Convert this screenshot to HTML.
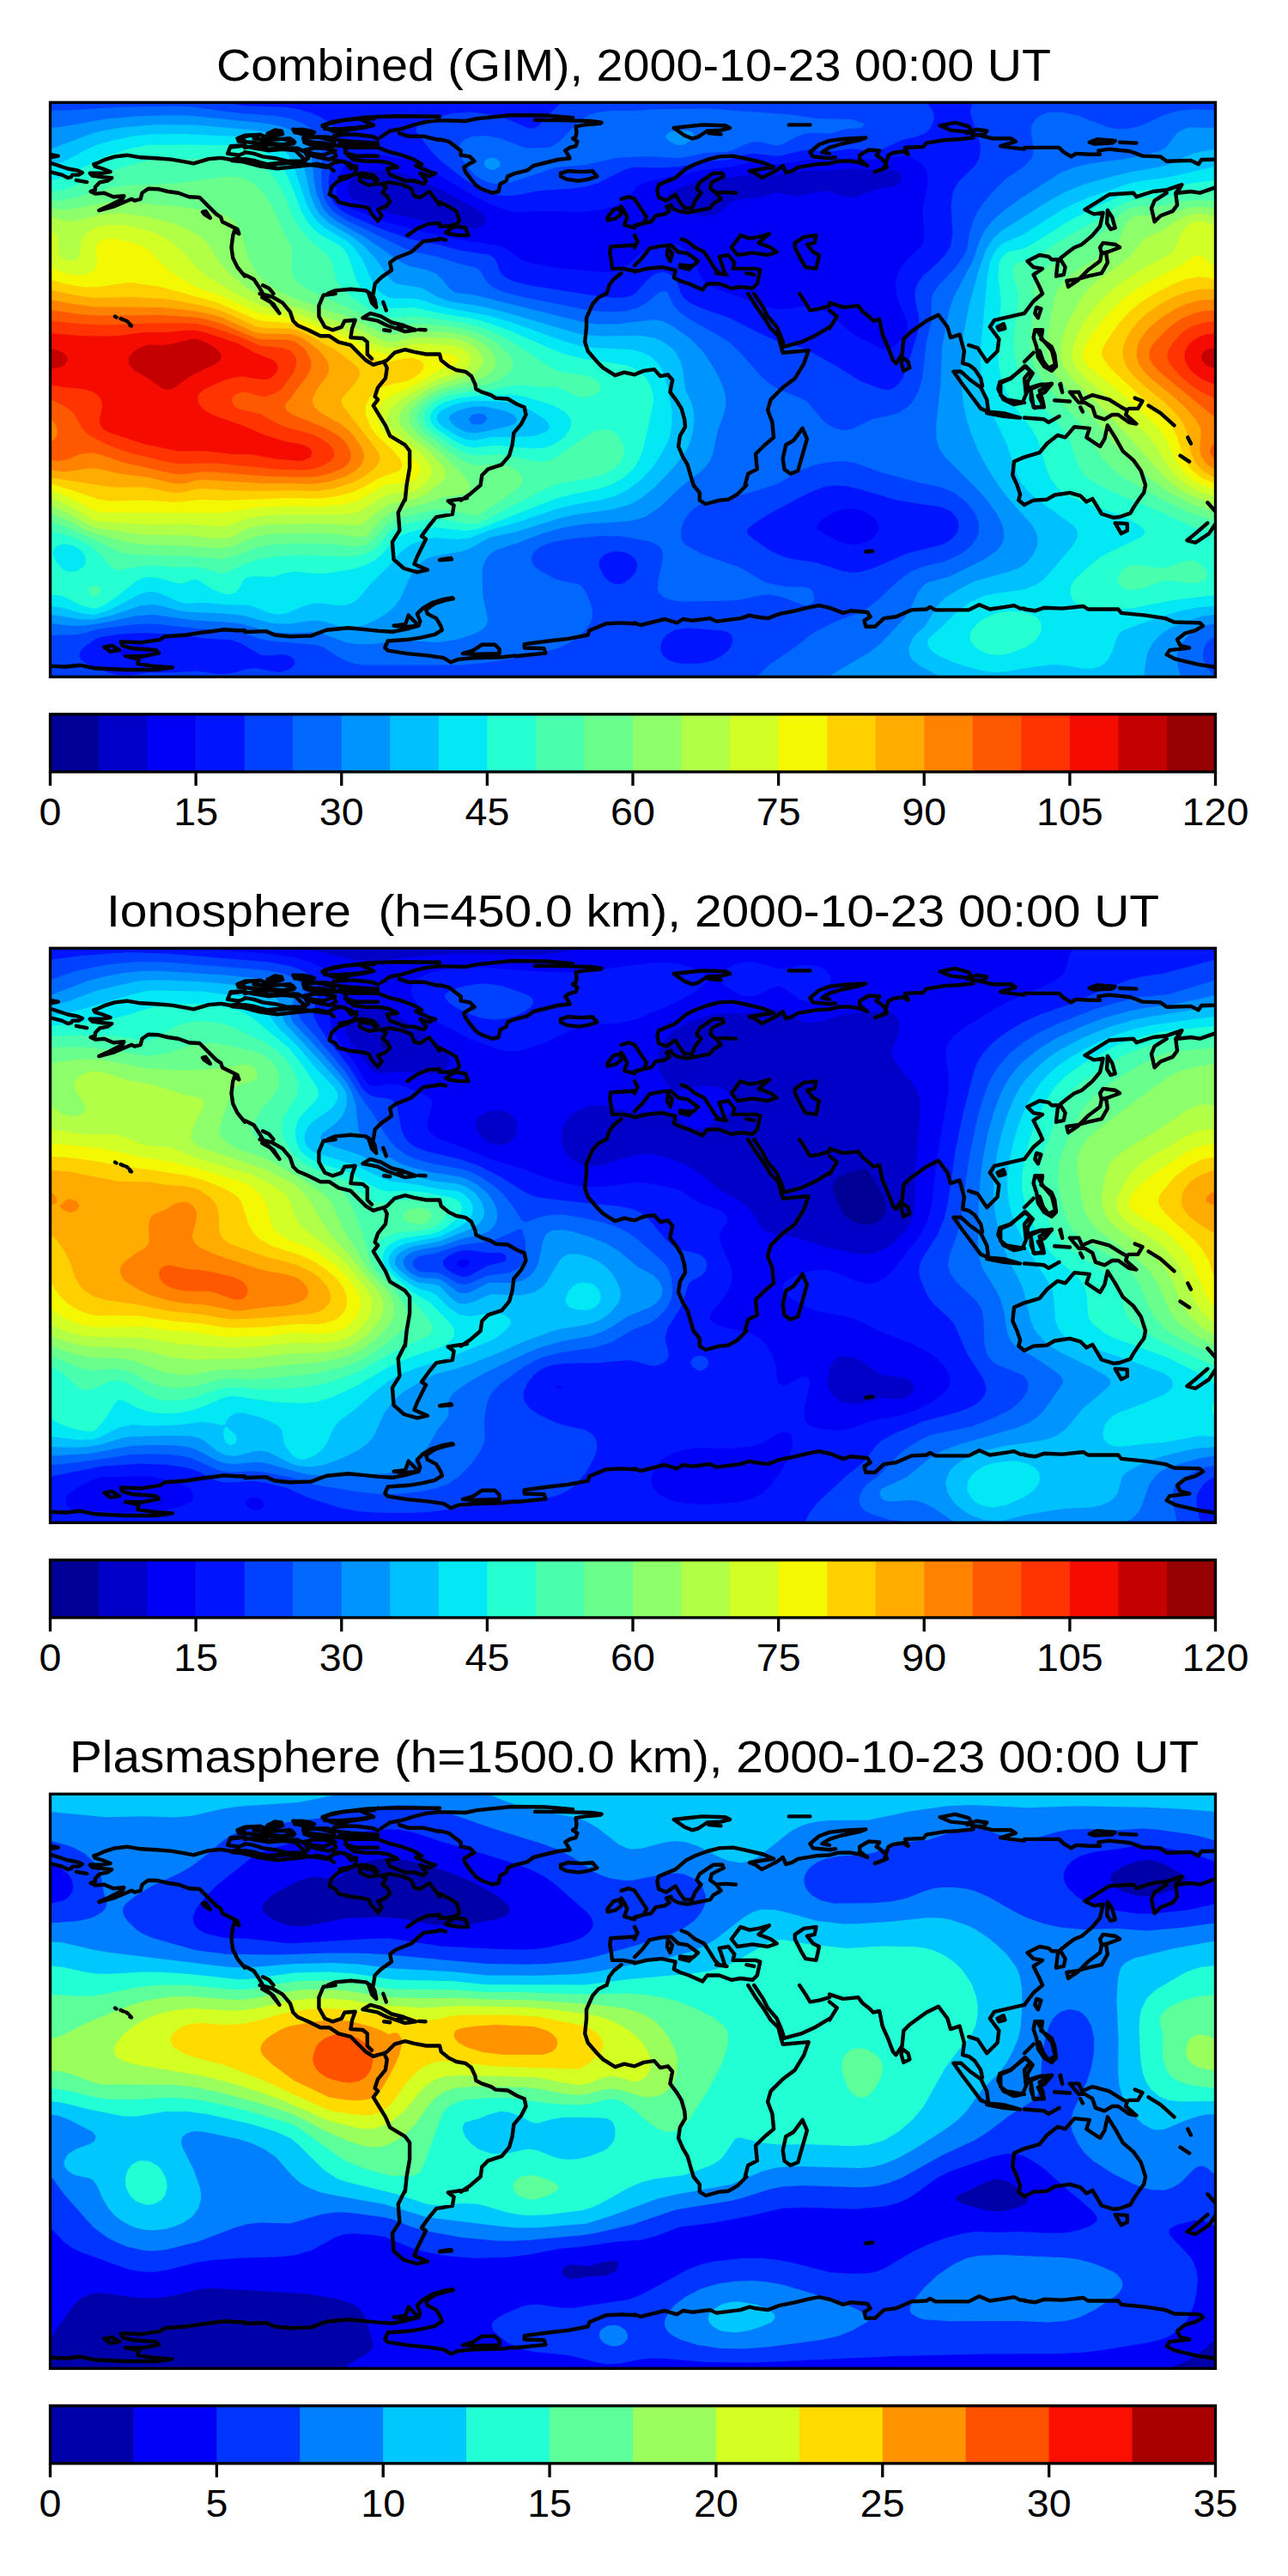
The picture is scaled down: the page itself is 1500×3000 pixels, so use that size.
<!DOCTYPE html><html><head><meta charset="utf-8"><style>html,body{margin:0;padding:0;background:#fff;}svg{display:block;}text{font-family:"Liberation Sans",sans-serif;fill:#000;}</style></head><body>
<svg width="1500" height="3000" viewBox="0 0 1500 3000">
<rect width="1500" height="3000" fill="#fff"/>
<defs>
<clipPath id="clip0"><rect x="58.5" y="119.3" width="1357.0" height="669.0"/></clipPath>
<clipPath id="clip1"><rect x="58.5" y="1104.3" width="1357.0" height="669.0"/></clipPath>
<clipPath id="clip2"><rect x="58.5" y="2089.3" width="1357.0" height="669.0"/></clipPath>
<path id="coast" fill="none" stroke="#000" stroke-width="4.4" stroke-linejoin="round" stroke-linecap="round" d="M58.0 179.8 L67.7 181.6 L58.0 183.3 M58.0 189.5 L68.6 193.0 L79.1 196.5 L89.7 198.3 L95.9 201.0 L91.5 203.6 L84.4 203.6 L82.7 206.2 L79.1 207.1 L72.1 203.6 L65.0 201.8 L58.0 200.1 M88.8 209.8 L101.2 212.1 M285.0 185.1 L269.5 186.0 L257.2 183.9 L243.1 185.1 L225.4 190.4 L216.6 188.6 L199.0 185.6 L181.4 184.2 L163.7 183.3 L147.9 180.7 L133.8 182.4 L123.2 185.6 L114.4 189.5 L109.1 191.3 L110.9 193.9 L119.7 196.5 L128.5 200.1 L117.9 201.8 L104.7 201.8 L107.3 204.5 L119.7 206.2 L130.3 207.1 L125.0 210.6 L116.2 212.4 L110.9 217.7 L110.9 221.2 L105.6 223.0 L110.9 225.6 L121.4 224.7 L132.0 229.2 L144.4 228.3 L142.6 231.8 L135.5 235.3 L125.0 240.6 L115.3 245.0 L132.0 240.6 L142.6 236.2 L153.2 231.8 L156.7 233.6 L163.7 231.8 L165.5 224.7 L172.6 219.8 L184.9 220.3 L195.5 223.0 L207.8 224.7 L220.1 229.2 L232.5 230.0 L243.1 240.6 L251.9 249.4 L257.2 252.9 L258.9 258.2 L269.5 263.5 L276.5 267.0 L278.3 272.3 L273.0 268.8 L271.3 274.1 L269.5 288.2 L271.3 300.5 L276.5 311.1 L285.0 321.7 M236.0 246.8 L239.5 245.9 L244.8 253.8 L237.8 249.4 L236.0 246.8 M285.0 157.8 L276.5 161.3 L285.0 163.9 M285.0 169.2 L268.6 170.1 L265.1 178.9 L278.3 180.7 L285.0 178.0 M375.8 147.2 L383.7 143.7 L399.6 140.1 L418.9 138.4 L434.8 145.4 L426.0 148.1 L408.4 150.7 L397.8 154.2 L387.2 152.5 L375.8 147.2 M397.8 140.1 L426.0 136.6 L461.2 135.2 L512.0 135.7 M443.6 159.5 L454.2 152.5 L468.3 149.8 L482.4 145.4 L496.5 141.9 L512.0 140.1 M464.8 155.1 L475.3 158.7 L493.0 158.7 L512.0 163.1 M341.4 150.7 L355.5 151.6 L366.1 154.2 L359.0 156.0 L343.2 154.2 L341.4 150.7 M311.4 156.0 L327.3 152.5 L329.1 156.0 L315.0 157.8 L311.4 156.0 M285.0 157.8 L302.6 156.9 L295.6 161.3 L311.4 163.1 L337.9 161.3 L343.2 165.7 L329.1 168.3 L311.4 166.6 L295.6 166.6 L285.0 164.8 M285.0 171.9 L299.1 170.1 L313.2 173.6 L330.8 171.9 L346.7 172.8 L355.5 177.2 L359.0 184.2 L352.0 187.7 L334.3 187.7 L320.2 184.2 L306.1 182.4 L295.6 178.9 L285.0 177.2 M353.7 161.3 L367.8 159.5 L381.9 159.5 L394.3 163.1 L408.4 164.8 L440.1 166.6 L436.6 168.3 L411.9 170.1 L394.3 170.1 L376.6 166.6 L355.5 164.8 L353.7 161.3 M353.7 175.4 L367.8 171.9 L380.2 171.9 L390.7 175.4 L376.6 180.7 L364.3 178.9 L353.7 175.4 M401.3 171.9 L418.9 171.9 L440.1 171.9 L454.2 177.2 L468.3 180.7 L482.4 186.0 L491.2 191.3 L484.2 193.0 L500.0 200.1 L507.1 201.8 L500.0 205.4 L489.4 201.8 L496.5 210.6 L493.0 214.2 L482.4 210.6 L471.8 210.6 L461.2 206.2 L454.2 203.6 L450.7 196.5 L463.0 194.8 L452.4 189.5 L440.1 187.7 L426.0 187.7 L411.9 186.0 L404.8 180.7 L401.3 171.9 M418.9 205.4 L433.0 207.1 L440.1 214.2 L429.5 215.9 L418.9 210.6 L418.9 205.4 M285.0 185.1 L295.6 186.9 L304.4 189.5 L311.4 191.3 L329.1 189.5 L343.2 188.6 L355.5 191.3 L369.6 193.0 L380.2 194.8 L389.0 189.5 L397.8 187.7 L408.4 191.3 L415.4 196.5 L411.9 203.6 L404.8 207.1 L394.3 210.6 L386.3 217.7 L383.7 226.5 L390.7 230.0 L394.3 235.3 L408.4 238.8 L422.5 240.6 L429.5 242.4 L433.0 249.4 L440.1 257.4 L444.5 251.2 L440.1 244.1 L448.9 240.6 L454.2 235.3 L450.7 228.3 L445.4 224.7 L449.8 217.7 L443.6 214.2 L454.2 212.4 L468.3 215.1 L478.9 219.5 L482.4 228.3 L489.4 230.0 L500.0 223.0 L512.0 238.8 M474.5 274.1 L485.9 266.2 L498.3 260.9 L512.0 260.0 M512.0 278.5 L493.0 281.1 L478.9 293.5 L461.2 300.5 L454.2 305.8 L456.0 314.6 L443.6 323.4 L436.6 330.5 L434.8 341.9 M285.0 319.9 L295.6 325.2 L302.6 335.8 L306.1 341.9 M306.1 332.3 L313.2 335.8 L318.5 341.9 M381.9 341.9 L390.7 338.4 L408.4 336.7 L426.0 338.4 L431.3 341.9 M512.0 140.1 L542.0 141.0 L554.3 138.4 L570.2 136.6 L596.6 134.0 L635.4 134.5 L667.1 137.2 M623.0 139.8 L658.3 140.1 L688.2 141.0 L700.6 142.8 L698.8 143.7 L681.2 145.4 L670.6 147.2 L671.5 154.2 L670.6 159.5 L667.1 161.3 L672.4 164.8 L670.6 170.1 L663.6 171.9 L658.3 175.4 L661.8 180.7 L663.6 184.2 L649.5 186.0 L635.4 189.5 L621.3 193.0 L614.2 198.3 L600.1 201.8 L591.3 205.4 L589.5 210.6 L582.5 214.2 L580.7 223.0 L573.7 224.7 L561.3 220.3 L554.3 215.9 L547.2 207.1 L542.0 200.1 L540.2 194.8 L545.5 191.3 L552.5 187.7 L547.2 182.4 L536.7 180.7 L536.7 175.4 L522.6 164.8 L512.0 162.2 M653.0 201.8 L661.8 199.2 L677.7 200.1 L690.0 199.2 L695.3 205.4 L684.7 208.9 L674.1 210.6 L660.0 208.9 L653.0 205.4 L653.0 201.8 M512.0 235.3 L522.6 240.6 L531.4 245.9 L534.9 256.5 L533.1 260.0 L522.6 263.5 L512.0 263.5 M519.0 270.6 L529.6 263.5 L542.0 265.3 L545.5 274.1 L534.9 274.1 L522.6 272.3 L519.0 270.6 M512.0 277.6 L519.0 279.4 M723.5 231.8 L732.3 229.2 L739.0 231.8 M723.5 240.6 L727.0 245.9 L730.5 252.9 L727.0 261.8 L739.0 265.3 M707.6 252.9 L714.7 244.1 L721.7 242.4 L723.5 249.4 L716.4 254.7 L707.6 256.5 L707.6 252.9 M739.0 285.5 L711.2 287.3 L710.3 295.2 L712.0 304.1 L712.9 312.9 L725.3 312.9 L739.0 315.5 M723.5 318.2 L714.7 325.2 L709.4 332.3 L706.7 341.9 M784.8 149.0 L800.7 147.2 L818.3 145.4 L844.7 146.3 L850.0 149.0 L839.5 151.6 L823.6 152.5 L813.0 159.5 L806.0 161.3 L797.2 157.8 L784.8 149.0 M825.4 155.1 L839.5 156.4 M918.8 145.4 L943.4 145.4 M966.0 163.9 L954.0 168.3 L943.4 177.2 L947.0 182.4 L966.0 184.2 M966.0 171.9 L957.5 177.2 L966.0 178.9 M966.0 190.4 L950.5 191.3 L929.3 194.8 L922.3 199.2 L915.2 201.0 L911.7 193.0 L904.7 198.3 L894.1 203.6 L887.0 207.1 L880.0 201.8 L872.9 199.2 L888.8 196.5 L901.1 194.8 L888.8 189.5 L865.9 184.2 L853.6 181.6 L837.7 182.4 L823.6 186.0 L809.5 191.3 L798.9 196.5 L786.6 207.1 L767.2 215.1 L765.4 221.2 L767.2 230.0 L776.0 233.6 L786.6 226.5 L791.9 235.3 L797.2 242.4 L806.0 242.4 L809.5 233.6 L816.5 224.7 L811.3 219.5 L814.8 212.4 L830.6 201.8 L841.2 201.8 L843.0 205.4 L828.9 212.4 L827.1 219.5 L834.2 224.7 L839.5 231.8 L830.6 237.1 L827.1 242.4 L818.3 244.1 L800.7 247.7 L790.1 245.9 L783.1 242.4 L781.3 238.8 L776.0 240.6 L779.5 245.9 L774.2 249.4 L763.7 251.2 L758.4 258.2 L749.6 260.0 L739.0 263.5 M834.2 224.7 L844.7 223.9 L857.1 224.7 M739.0 231.8 L746.0 242.4 L753.1 252.9 L749.6 260.0 L739.0 262.6 M739.0 274.1 L742.5 281.1 L739.0 288.2 M739.0 309.3 L747.8 300.5 L756.6 289.1 L770.7 286.4 L781.3 285.5 L790.1 293.5 L800.7 295.2 L813.0 304.1 L807.7 309.3 L797.2 310.2 M793.6 278.5 L800.7 281.1 L809.5 288.2 L820.1 293.5 L827.1 304.1 L832.4 312.9 L837.7 318.2 L844.7 319.9 L841.2 309.3 L837.7 298.8 L848.3 297.0 L855.3 305.8 M777.8 289.1 L783.1 295.2 L780.4 304.1 L776.9 297.0 L777.8 289.1 M791.9 308.5 L806.0 310.2 L802.4 313.7 L791.9 311.1 M851.8 288.2 L862.4 274.1 L872.9 277.6 L883.5 275.9 L895.9 272.3 L883.5 282.9 L897.6 288.2 L904.7 293.5 L894.1 297.0 L876.5 294.4 L858.8 297.0 L851.8 288.2 M855.3 305.8 L853.6 312.9 L865.9 312.9 L880.0 312.9 L885.3 314.6 L881.8 330.5 L876.5 335.8 M925.8 282.9 L936.4 275.9 L950.5 274.1 L948.7 282.9 L939.9 284.7 L947.0 293.5 L954.0 297.0 L950.5 312.9 L938.2 311.1 L932.9 302.3 L925.8 288.2 L925.8 282.9 M834.2 318.2 L846.5 319.9 M869.4 318.2 L878.2 319.9 M739.0 316.4 L753.1 312.9 L770.7 311.1 L786.6 314.6 L784.8 323.4 L791.9 327.0 L802.4 330.5 L818.3 337.5 L823.6 330.5 L837.7 330.5 L851.8 335.8 L862.4 334.0 L876.5 335.8 M966.0 163.9 L983.6 161.7 L1008.3 160.4 L1001.2 163.1 L980.1 167.5 L966.0 171.9 M966.0 184.2 L973.0 183.3 M966.0 190.4 L976.6 187.7 L988.9 187.4 L1001.2 189.5 L1010.1 193.0 L1001.2 186.0 L1001.2 180.7 L1011.8 174.5 L1024.2 175.4 L1020.6 180.7 L1025.9 184.2 L1031.2 189.5 L1033.0 194.8 L1018.9 200.1 L1029.4 196.5 L1034.7 180.7 L1040.0 178.0 L1052.4 176.3 L1057.6 179.8 L1054.1 171.9 L1075.3 171.0 L1078.8 166.6 L1099.9 163.1 L1115.8 162.2 L1133.4 160.4 L1131.7 156.0 L1142.2 157.8 L1156.3 161.3 L1177.5 161.3 L1182.8 164.8 L1165.2 170.1 L1177.5 171.9 L1193.0 173.6 M1094.7 146.3 L1112.3 142.8 L1128.1 147.2 L1131.7 152.5 L1124.6 153.4 L1107.0 151.6 L1094.7 146.3 M1126.4 155.1 L1137.0 150.7 L1149.3 152.5 L1145.8 156.9 L1135.2 156.9 M1193.0 171.9 L1215.9 171.9 L1233.5 171.9 L1238.8 177.2 L1247.6 182.4 L1252.9 178.9 L1268.8 179.8 L1281.1 179.8 L1279.4 175.4 L1291.7 173.6 L1316.4 176.3 L1330.5 181.6 L1351.6 182.4 L1358.7 187.7 L1386.9 186.9 L1395.7 191.3 L1399.2 186.0 L1420.0 185.6 M1268.8 165.7 L1277.6 162.2 L1298.7 163.9 L1295.2 166.6 L1274.1 167.5 L1268.8 165.7 M1304.0 165.7 L1323.4 166.6 M1420.0 216.8 L1397.4 224.7 L1386.9 223.0 L1371.0 224.7 L1376.3 215.1 L1358.7 221.2 L1342.8 223.0 L1323.4 229.2 L1319.9 224.7 L1291.7 226.5 L1263.5 244.1 L1274.1 249.4 L1284.6 247.7 L1281.1 263.5 L1272.3 274.1 L1260.0 284.7 L1251.2 288.2 L1244.1 293.5 L1235.3 300.5 L1231.8 305.8 L1230.0 321.7 L1238.8 319.9 L1240.6 311.1 L1235.3 302.3 L1224.7 302.3 L1221.2 298.8 L1210.6 297.0 L1196.5 304.1 L1203.6 311.1 L1214.1 312.9 L1203.6 319.9 L1210.6 334.0 L1214.1 341.9 M1289.9 245.0 L1295.2 252.9 L1298.7 265.3 L1293.5 267.0 L1289.1 260.0 L1289.9 245.0 M1376.3 215.1 L1369.2 224.7 L1371.0 238.8 L1365.7 245.9 L1351.6 251.2 L1344.6 258.2 L1341.0 242.4 L1344.6 233.6 L1358.7 224.7 M1281.1 288.2 L1284.6 282.9 L1298.7 284.7 L1304.0 288.2 L1289.9 293.5 L1282.9 295.2 L1281.1 288.2 M1288.2 295.2 L1289.9 305.8 L1282.9 318.2 L1267.0 321.7 L1254.7 325.2 L1242.3 327.0 L1244.1 334.0 L1254.7 327.0 L1267.0 314.6 L1281.1 304.1 L1282.9 295.2 M302.6 342.0 L316.7 345.5 L329.1 352.6 L337.9 363.1 L341.4 373.7 L346.7 379.0 L359.0 384.3 L373.1 391.3 L383.7 391.3 L394.3 398.4 L408.4 401.9 L418.9 412.5 L426.0 419.5 L434.8 424.8 L440.1 423.1 L447.1 421.3 L450.7 419.5 L459.5 410.7 L471.8 407.2 L482.4 409.9 L496.5 412.5 L512.0 412.5 M305.3 346.4 L315.0 351.7 L325.5 364.9 L318.5 354.3 L309.7 347.3 M390.7 342.0 L376.6 343.8 L371.4 356.1 L371.4 368.4 L378.4 380.8 L387.2 384.3 L397.8 380.8 L401.3 373.7 L413.7 372.8 L410.1 382.5 L408.4 393.1 L422.5 394.0 L427.8 398.4 L427.8 412.5 L433.0 417.8 M429.5 342.0 L433.0 352.6 L438.3 357.9 L436.6 349.0 L433.0 342.0 M422.5 370.2 L431.3 364.9 L443.6 368.4 L456.0 375.5 L470.1 379.0 L461.2 382.5 L450.7 379.0 L440.1 373.7 L422.5 370.2 M461.2 382.5 L471.8 379.9 L484.2 384.3 L471.8 386.1 L461.2 382.5 M447.1 384.3 L454.2 385.2 M487.7 383.9 L495.6 384.3 M446.3 351.7 L449.8 361.4 M447.1 421.3 L450.7 428.4 L448.9 440.7 L440.1 451.3 L436.6 461.8 L440.1 465.4 L434.8 472.4 L440.1 481.2 L448.9 495.3 L454.2 507.7 L471.8 518.2 L477.1 525.3 L477.1 544.7 L473.6 564.9 M512.0 412.5 L513.8 419.5 L522.6 426.6 L531.4 431.0 L542.0 432.8 L549.0 438.1 L553.4 447.7 L554.3 453.0 L561.3 456.6 L571.9 460.1 L577.2 463.6 L591.3 464.5 L601.9 470.7 L610.7 474.2 L612.5 483.0 L607.2 493.6 L598.4 504.1 L596.6 518.2 L593.1 530.6 L584.3 541.2 L568.4 546.4 L561.3 553.5 L559.6 564.9 M705.9 342.0 L697.1 346.4 L690.0 354.3 L683.0 370.2 L683.0 380.8 L681.2 398.4 L684.7 409.0 L695.3 421.3 L702.3 428.4 L716.4 437.2 L727.0 433.6 L739.0 436.3 M739.0 436.3 L749.6 431.9 L761.9 430.1 L769.0 438.1 L777.8 436.3 L783.1 442.5 L780.4 456.6 L788.3 467.1 L793.6 475.9 L797.2 488.3 L798.0 497.1 L791.9 507.7 L790.1 520.0 L795.4 532.3 L800.7 541.2 L804.2 553.5 L807.7 564.9 M871.2 342.0 L880.0 356.1 L888.8 368.4 L897.6 382.5 L906.4 391.3 L910.0 405.4 L911.7 410.7 L941.7 408.1 L936.4 423.1 L925.8 440.7 L911.7 451.3 L897.6 465.4 L894.1 477.7 L899.4 491.8 L901.1 509.4 L890.6 518.2 L880.0 528.8 L881.8 546.4 L871.2 551.7 L867.7 564.9 M878.2 342.0 L888.8 357.9 L894.1 368.4 L904.7 380.8 L910.0 393.1 L913.5 403.7 L932.9 398.4 L948.7 391.3 L966.0 380.8 M931.1 342.0 L938.2 352.6 L943.4 361.4 L954.0 359.6 L966.0 356.1 M934.6 498.9 L939.9 511.2 L929.3 548.2 L920.5 551.7 L913.5 546.4 L911.7 534.1 L915.2 518.2 L924.1 513.0 L934.6 498.9 M966.0 352.6 L981.9 357.9 L999.5 356.1 L1004.8 363.1 L1011.8 368.4 L1017.1 373.7 L1024.2 372.0 L1027.7 389.6 L1034.7 405.4 L1040.0 419.5 L1043.5 423.1 L1050.6 412.5 L1052.4 394.9 L1059.4 387.8 L1078.8 373.7 L1092.9 366.7 L1103.5 380.8 L1107.0 393.1 L1117.6 389.6 L1122.9 409.0 L1121.1 423.1 L1128.1 424.8 L1135.2 430.1 L1142.2 440.7 L1144.0 449.5 M1128.1 401.9 L1138.7 405.4 L1149.3 421.3 L1161.6 409.0 L1163.4 394.9 L1152.8 380.8 L1158.1 372.8 L1193.0 364.9 M966.0 361.4 L974.8 368.4 L966.0 382.5 M1050.6 416.0 L1057.6 421.3 L1059.4 428.4 L1052.4 431.9 L1049.7 423.1 L1050.6 416.0 M1110.5 432.8 L1119.3 432.8 L1129.9 442.5 L1142.2 451.3 L1149.3 465.4 L1151.1 479.5 L1142.2 475.9 L1131.7 461.8 L1121.1 447.7 L1110.5 432.8 M1149.3 479.5 L1168.7 481.2 L1188.1 486.5 L1168.7 484.8 L1149.3 481.2 M1193.0 426.6 L1177.5 440.7 L1165.2 446.0 L1165.2 460.1 L1172.2 465.4 L1193.0 468.9 M1161.6 380.8 L1168.7 377.2 L1170.4 382.5 L1163.4 384.3 L1161.6 380.8 M1193.0 532.3 L1181.0 537.6 L1179.3 553.5 L1184.5 564.9 M1214.1 342.0 L1203.6 350.8 L1193.0 364.9 M1207.1 357.9 L1212.4 359.6 L1208.9 370.2 L1205.3 364.9 L1207.1 357.9 M1205.3 384.3 L1214.1 384.3 L1212.4 394.9 L1224.7 403.7 L1228.2 412.5 L1230.0 426.6 L1224.7 431.9 L1215.9 426.6 L1208.9 416.0 L1207.1 403.7 L1203.6 393.1 L1205.3 384.3 M1193.0 421.3 L1203.6 410.7 M1193.0 426.6 L1200.0 431.9 L1193.0 440.7 L1194.8 458.3 M1200.0 451.3 L1212.4 447.7 L1224.7 447.7 L1210.6 454.8 L1214.1 465.4 L1215.9 474.2 L1203.6 474.2 L1201.8 461.8 L1200.0 451.3 M1234.4 447.7 L1237.1 456.6 M1228.2 466.3 L1245.9 467.5 M1245.9 456.6 L1256.4 456.6 L1260.0 465.4 L1272.3 460.1 L1291.7 465.4 L1305.8 474.2 L1312.8 477.7 L1311.1 483.0 L1323.4 493.6 L1314.6 491.8 L1302.3 483.0 L1295.2 483.0 L1286.4 488.3 L1275.8 484.8 L1272.3 474.2 L1263.5 468.9 L1256.4 468.9 L1245.9 456.6 M1321.7 463.6 L1330.5 467.1 L1325.2 475.9 L1314.6 475.9 M1337.5 472.4 L1351.6 481.2 L1367.5 495.3 M1383.3 509.4 L1386.9 516.5 M1374.5 530.6 L1385.1 537.6 M1193.0 486.5 L1215.9 488.3 L1221.2 491.8 L1233.5 484.8 M1258.2 474.2 L1260.9 479.5 M1193.0 532.3 L1210.6 527.1 L1219.4 516.5 L1231.8 506.8 L1240.6 509.4 L1251.2 497.1 L1268.8 498.9 L1265.3 509.4 L1281.1 520.0 L1286.4 511.2 L1289.9 495.3 L1298.7 509.4 L1307.6 525.3 L1319.9 535.9 L1328.7 548.2 L1334.0 564.9 M285.0 734.2 L276.5 734.2 L260.7 733.3 L234.2 736.8 L216.6 739.5 L191.9 741.2 L186.7 744.8 L163.7 748.3 L140.8 747.4 L142.6 751.8 L154.9 755.3 L181.4 757.1 L184.9 760.6 L167.3 764.2 L146.1 764.2 L162.0 767.7 L160.2 773.0 L177.8 775.6 L200.8 777.4 L181.4 780.0 L146.1 780.0 L110.9 778.3 L93.2 774.7 L75.6 776.5 L58.0 775.6 M121.4 753.6 L130.3 751.8 L139.1 757.1 L128.5 758.9 L121.4 753.6 M285.0 736.0 L309.7 735.1 L320.2 739.5 L337.9 741.2 L362.5 740.4 M473.6 565.0 L471.8 582.6 M512.0 652.2 L526.1 651.4 M512.0 700.7 L527.9 697.2 M600.1 764.2 L635.4 760.6 L633.6 755.3 L610.7 754.5 L610.7 750.1 L638.9 746.5 L661.8 743.9 L684.7 739.5 L686.5 734.2 L705.9 726.3 L723.5 725.4 L739.0 726.3 M559.6 565.0 L547.2 575.6 L536.7 582.6 M807.7 565.0 L814.8 573.8 L814.8 582.6 L821.8 587.0 L837.7 582.6 L848.3 581.7 L858.8 575.6 L869.4 565.0 M739.0 725.4 L746.0 728.0 L774.2 721.0 L788.3 725.4 L795.4 721.0 L806.0 722.7 L827.1 720.1 L834.2 723.6 L862.4 720.1 L872.9 716.6 L880.0 718.3 L894.1 720.1 L908.2 714.8 L925.8 711.3 L939.9 707.8 L954.0 705.1 L966.0 707.8 M1184.5 565.0 L1188.1 575.6 L1186.3 582.6 L1193.0 587.9 M1008.3 642.5 L1016.2 641.7 M966.0 707.8 L981.9 713.9 L990.7 711.3 L1010.1 713.0 L1013.6 718.3 L1006.5 722.7 L1008.3 729.8 L1018.9 729.8 L1029.4 720.1 L1043.5 718.3 L1061.2 710.4 L1078.8 709.5 L1083.2 706.9 L1089.4 710.4 L1110.5 710.4 L1128.1 710.4 L1140.5 704.2 L1152.8 709.5 L1170.4 706.9 L1181.0 705.1 L1188.1 708.6 L1193.0 708.6 M1193.0 587.9 L1203.6 582.6 L1219.4 581.7 L1228.2 576.5 L1245.9 573.8 L1258.2 577.3 L1265.3 584.4 L1272.3 580.9 L1277.6 589.7 L1282.9 598.5 L1297.0 602.9 L1304.0 602.0 L1316.4 597.6 L1319.9 591.4 L1326.9 580.9 L1332.2 573.8 L1334.0 565.0 M1298.7 609.1 L1312.8 609.9 L1312.8 617.9 L1305.8 621.4 L1298.7 609.1 M1406.3 585.3 L1413.3 593.2 L1420.0 600.2 M1406.3 609.1 L1392.2 621.4 L1382.5 629.3 L1392.2 632.0 L1408.0 621.4 L1415.1 610.8 M1193.0 709.5 L1205.3 711.3 L1215.9 707.8 L1237.1 708.6 L1261.7 706.0 L1267.0 709.5 L1302.3 709.5 L1305.8 713.9 L1334.0 716.6 L1356.9 720.1 L1367.5 724.5 L1397.4 725.4 L1401.0 728.9 L1392.2 734.2 L1379.8 737.7 L1371.0 744.8 L1374.5 751.8 L1385.1 754.5 L1362.2 757.1 L1358.7 762.4 L1369.2 767.7 L1395.7 773.8 L1413.3 776.5 L1420.0 775.6 M276.6 161.3 L289.8 158.0 L303.0 156.7 L312.2 160.6 L328.1 162.0 L341.3 163.3 L341.9 167.2 L329.4 168.6 L309.6 168.6 L296.4 165.9 L277.9 164.6 L276.6 161.3 M312.2 155.4 L320.2 151.4 L328.1 152.7 L326.8 156.7 L314.9 157.3 L312.2 155.4 M342.6 151.4 L351.8 150.7 L362.4 152.7 L365.0 155.4 L354.5 156.7 L343.9 154.0 M353.2 160.6 L362.4 159.3 L375.6 160.6 L388.8 164.6 L390.1 169.9 L375.6 169.9 L362.4 168.6 L354.5 165.9 L353.2 160.6 M270.0 171.2 L283.2 169.9 L296.4 172.5 L312.2 175.2 L329.4 173.8 L343.9 175.2 L349.2 180.4 L355.8 187.0 L349.2 191.0 L336.0 189.7 L322.8 191.0 L309.6 193.6 L303.0 191.0 L289.8 187.0 L276.6 184.4 L270.0 185.7 M353.2 175.2 L365.0 172.5 L378.2 172.5 L388.8 176.5 L391.4 181.8 L383.5 185.7 L370.3 183.1 L359.8 180.4 L353.2 175.2 M375.6 146.1 L386.1 142.2 L402.0 139.5 L421.8 138.2 L435.0 138.2 L440.0 135.6 M378.2 150.1 L395.4 150.1 L415.2 148.8 L435.0 146.1 M388.8 158.0 L402.0 156.7 L415.2 156.7 L435.0 159.3 L440.0 162.0 M395.4 167.2 L408.6 165.9 L421.8 168.6 L440.0 168.6 M402.0 177.8 L415.2 181.8 L440.0 181.8 M270.0 187.0 L283.2 188.4 L303.0 193.6 L322.8 196.3 L349.2 193.6 L369.0 191.0 L382.2 193.6 L388.8 198.9 M388.8 187.0 L402.0 188.4 L408.6 196.3 L415.2 193.6 M395.4 206.8 L408.6 204.2 L421.8 201.6 L435.0 204.2 L440.0 209.5 M1194.7 426.6 L1202.8 434.7 L1196.7 444.8 L1196.7 454.9 L1190.7 469.0 L1180.6 471.0 L1168.4 465.0 L1162.4 452.9 L1164.4 444.8 L1176.5 440.7 L1186.6 432.7 L1194.7 426.6 M1200.7 452.9 L1210.8 448.8 L1225.0 446.8 L1216.9 456.9 L1208.8 460.9 L1214.9 473.0 L1204.8 475.1 L1200.7 465.0 L1200.7 452.9 M1208.8 386.2 L1214.9 396.3 L1225.0 408.4 L1229.0 424.6 L1220.9 428.6 L1214.9 420.6 L1210.8 408.4 M1235.1 446.8 L1237.1 456.9 M380.0 733.7 L405.6 731.2 L422.7 732.9 L439.8 734.6 L456.9 735.8 L475.7 732.0 L487.6 728.6 L489.3 723.5 L485.9 714.9 L492.7 708.1 L503.0 702.1 L516.6 697.9 L526.9 696.1 L516.6 699.6 L506.4 703.0 L496.1 709.8 L497.9 714.9 L508.1 720.1 L513.2 728.6 L514.9 733.7 L506.4 738.9 L491.0 742.3 L475.7 744.8 L451.7 746.5 L448.3 754.2 L451.7 757.6 L473.9 761.1 L499.6 763.6 L516.6 766.2 L525.2 771.3 L533.7 767.9 L550.8 766.2 L585.0 765.3 L600.0 763.6 M458.6 728.6 L472.2 726.9 L475.7 716.6 L482.5 723.5 L487.6 728.6 L472.2 730.3 L458.6 728.6 M538.9 761.1 L550.8 757.6 L561.1 750.8 L576.4 750.8 L581.6 755.9 L581.6 761.1 L550.8 761.9 L538.9 761.1 M513.2 651.7 L525.2 650.0 M472.2 580.0 L463.7 597.1 L465.4 617.6 L456.9 631.2 L458.6 651.7 L470.5 662.0 L485.9 666.3 L497.9 663.7 L482.5 656.9 L485.9 648.3 L491.0 638.1 L496.1 627.8 L491.0 624.4 L499.6 612.5 L508.1 602.2 L526.9 598.8 L528.6 588.5 L521.8 583.4 L544.0 580.0 M362.5 740.4 L380.0 733.7 M134.0 368.5 L135.5 369.5 M140.5 371.0 L144.0 372.5 M147.0 373.5 L149.0 375.0 M151.0 377.0 L153.0 379.5 L151.5 379.0"/>
</defs>
<text x="252.0" y="94.3" font-size="51" textLength="972.0" lengthAdjust="spacingAndGlyphs">Combined (GIM), 2000-10-23 00:00 UT</text>
<g clip-path="url(#clip0)">
<rect x="58.5" y="119.3" width="1357.0" height="669.0" fill="#000096"/>
<path fill="#0000c8" fill-rule="evenodd" d="M63.5 119.3 1415.5 119.3 1415.5 788.3 58.5 788.3 58.5 119.3 63.5 119.3Z"/>
<path fill="#0000f6" fill-rule="evenodd" d="M63.5 119.3 1415.5 119.3 1415.5 788.3 58.5 788.3 58.5 119.3 63.5 119.3ZM430.3 198 422.7 199.6 417.7 201.8 412.7 205.3 406.8 212.8 405 217.7 404.6 222.6 406.4 227.5 412.7 232.7 435.9 242.3 452.6 247.9 514.8 262 542.4 265.9 552.4 266.3 557.4 265.6 564.5 262 566.2 257 564.6 252.1 560.4 247.2 552.9 242.3 517.5 222.9 485.5 207.8 472.6 203.1 447.6 198.4 430.3 198ZM971.5 198 961.5 199.3 941.5 198.4 921.6 200.4 906.6 203.4 876.7 202.7 851.7 206.9 826.8 207 816.8 209.6 781.9 222.6 777.1 227.5 776.6 232.4 781.9 238.5 811.8 250.1 821.8 251.9 831.8 250.3 836.8 247.9 851.7 235.8 856.7 233.4 866.7 231.6 886.7 229.7 901.6 225.1 906.6 224.5 926.6 228 936.6 227 951.5 223.5 961.5 222.6 966.5 223.3 986.4 229.3 996.4 229.3 1021.4 220.2 1041.3 217.3 1047.7 212.8 1050.2 207.8 1049.7 202.9 1046.3 200.1 1041.3 198.4 1031.3 197.1 1016.4 197.7 996.4 196.2 971.5 198Z"/>
<path fill="#0014ff" fill-rule="evenodd" d="M63.5 119.3 1415.5 119.3 1415.5 788.3 58.5 788.3 58.5 119.3 63.5 119.3ZM421.7 178.3 412.7 181.9 407.7 185.6 402.7 190.8 397.8 198.1 392.3 212.8 391.7 222.6 392.6 227.5 394.9 232.4 397.8 235.8 407.6 242.3 452.6 259.4 492.5 270.1 537.4 279.4 582.3 286.3 592.3 291.5 607.3 302.5 617.4 306.2 647.2 311.8 702.1 316.9 712.1 317.1 722 314.4 727 311.4 747 294 757 287.5 761.9 285.4 771.9 283 781.9 283.1 791.9 286.4 801.9 294.8 809.2 306.2 816.8 323.2 824 330.8 833.6 335.7 886.1 355.4 896.6 358.5 906.6 359.9 916.6 359.5 936.6 356.6 946.5 357 951.5 358.1 957.2 360.3 965.6 365.3 986.4 383.4 996.4 390.6 1026.4 405.7 1031.3 406.5 1036.3 405.6 1041.3 403.1 1051.3 393.8 1056.3 384.9 1057 380 1056.3 374.4 1046.4 350.5 1043.5 340.7 1043.6 325.9 1046.8 316.1 1051.3 308.5 1057.5 301.3 1071.3 288.5 1075.6 281.6 1076.8 271.8 1074.5 252.1 1074.5 242.3 1079.8 217.7 1080.7 207.8 1078.4 198 1075.1 193.1 1069.8 188.2 1061.3 183.2 1051.3 181.1 1016.4 186 991.4 184.6 966.5 187 941.5 185.9 906.6 191.4 871.7 189.5 851.7 194.6 818.5 198 796.9 203.3 771.5 207.8 750.2 212.8 741.6 217.7 732 229.9 727 234.1 717 239.5 702.1 244.1 677.1 246.9 632.2 245.7 607.3 247.1 597.3 246.4 587.3 244 567.4 236 547.4 225.6 497.5 195.6 482.6 188.2 472.6 185.3 452.6 182.2 432.7 177.9 421.7 178.3ZM971.1 596.5 962.4 601.4 956.3 606.3 951.7 611.2 950.8 616.1 971.5 628.1 977.4 630.9 986.4 633.6 996.4 634.4 1001.4 633.8 1011.4 630.2 1017.2 626 1021.2 621 1023.2 616.1 1023 611.2 1020.5 606.3 1015.9 601.4 1008.1 596.5 1001.4 594 991.4 592.5 981.5 593.3 971.1 596.5ZM145.6 753.9 139.8 758.8 141.8 763.7 153.3 768.3 163.3 768.4 168.3 767.1 176.5 763.7 179.9 758.8 175.4 753.9 163.3 750.5 153.3 751.6 145.6 753.9Z"/>
<path fill="#0040ff" fill-rule="evenodd" d="M63.5 119.3 261.2 119.3 283 123 332.9 124.8 347.9 127.2 362.8 131.5 372.8 136 382.8 142.4 389.3 148.8 392.2 153.7 393.6 158.7 393.3 168.5 383.8 202.9 382.7 212.8 383.2 222.6 386.1 232.4 389.1 237.4 397.8 245.3 407.7 250.9 442.7 266 477.6 278.6 512.5 285.3 537.4 292 568.5 296.4 572.4 298 576.3 301.3 578.9 306.2 582.1 316.1 587.3 322.3 597.3 327.6 617.3 332.5 702.1 345.7 717 346.9 727 346.5 737 343.6 741 340.7 753.7 325.9 761.9 319.6 766.9 317.7 771.9 317.1 776.9 317.9 781.9 320.4 786.9 325.5 789.7 330.8 792.5 340.7 795.2 345.6 800.5 350.5 806.8 354.4 816.8 358.8 849.5 370.2 886.7 389.1 901.6 395.8 936.6 405.7 971.5 424.8 1001.4 443.5 1026.4 453 1031.3 454.1 1036.3 453.7 1041.3 451.6 1046.3 447.6 1051.3 440.2 1056.3 427.5 1068 389.9 1070.2 380 1070.2 370.2 1066.1 350.5 1065.4 340.7 1068.1 330.8 1075.1 321 1091.9 306.2 1101.2 296.6 1107 286.6 1109.4 271.8 1107.5 237.4 1110 222.6 1116.2 211.7 1136.1 192.4 1140.7 183.2 1141.9 173.4 1141.1 166.7 1130.6 134.1 1130.1 129.1 1131.1 124.2 1133.9 119.3 1415.5 119.3 1415.5 788.3 58.5 788.3 58.5 119.3 63.5 119.3ZM960 566.9 941.5 574.2 899.3 596.5 883.3 606.3 870.4 616.1 870.1 621 875 626 895.9 640.7 911.6 648.1 921.6 650.7 951.5 655.3 981.5 665.2 991.4 666.7 1001.4 666.1 1016.4 662.1 1056.3 644.5 1096.2 634.4 1103.6 630.9 1110.1 626 1114 621 1116.1 616.1 1116.6 611.2 1115.7 606.3 1113.1 601.4 1106.2 595 1096.2 590.6 1046.3 583.1 1001.4 569.8 986.4 566.3 971.5 565.3 960 566.9ZM704.7 645.6 699.1 650.6 697.5 655.5 698.1 660.4 703 670.2 707.1 675.1 712.1 678.7 717 680.3 722 680.3 727 678.7 737 670.7 740.7 665.3 742 660.4 741.6 655.5 739.2 650.6 733.3 645.6 727 643.2 717 642.3 712.1 643 704.7 645.6ZM785.1 734.2 776.9 738.8 772.3 744 770 748.9 769.2 753.9 769.8 758.8 772.2 763.7 778 768.6 786.9 771.7 796.9 772.9 811.8 772.8 821.8 771.5 831.7 768.6 840.9 763.7 846.8 758.8 850.6 753.9 852.9 748.9 853.4 744 851.5 739.1 846.8 735.9 841.8 734.5 801.9 731.6 791.9 732.4 785.1 734.2ZM135.9 739.1 118.4 741.7 111.9 744 97.4 753.9 93.5 758.8 92.5 763.7 94.7 768.6 101 773.5 126.6 783.4 138.3 786.2 153.3 786.3 173.2 783.2 203.2 783.3 228.1 781.4 253.1 784.8 263 784.9 273 783.2 288 779 298 777.9 322.9 782.9 327.9 782.5 337.9 778.9 343.4 773.5 343 768.6 337.2 763.7 327.9 762.1 312.9 763.4 303 762.4 280.2 748.9 268 745.1 238.1 743.6 208.2 738.9 163.3 736.9 135.9 739.1ZM652.2 120.9 654.2 119.3 1077.9 119.3 1083 124.2 1086.2 129.1 1087.8 134.1 1087.8 139 1083.9 148.8 1079.5 153.7 1076.2 155.8 1068.7 158.7 1051.3 162.8 1028.2 173.4 1021.4 175.7 1016.4 176 991.4 173.2 961.5 177 941.5 174.6 931.6 175.8 906.6 181.9 876.7 178.8 866.7 180.4 846.8 186.3 821.8 188.3 791.9 194.2 771.9 195.3 737 194.8 726.5 198 697.1 212.9 682.1 217.4 667.2 219.6 627.2 222.3 602.3 227.3 587.3 228.1 577.4 226.8 567.4 223.9 554.4 217.7 539.5 207.8 514.5 188.2 504.2 178.3 485 153.7 484.6 148.8 488.8 143.9 498.9 139 507.5 136.3 527.5 131.9 547.4 130.6 562.4 131.9 577.4 134.6 592.3 139.2 612.3 148.1 617.3 149.6 622.3 149.2 627.2 146.3 643.3 129.1 652.2 120.9Z"/>
<path fill="#0068ff" fill-rule="evenodd" d="M178.2 124.1 203.2 123.4 223.1 124.2 283 132.3 317.9 134.5 337.9 138.1 353 143.9 360.7 148.8 366.1 153.7 372.3 163.6 373.9 168.5 375.2 178.3 374.1 207.8 375.5 222.6 378.4 232.4 380.9 237.4 389.2 247.2 402.7 256.1 472.6 290.1 482.6 293.4 507.5 298.4 532.5 306.4 551.6 311.1 557.4 313.7 559.9 316.1 565.4 325.9 569.4 330.8 576.1 335.7 587.3 340.4 607.3 345.6 677.1 359.7 697.1 362.6 712.1 363.3 727 362.5 742 358.8 752 353.5 766.9 341 771.9 339 776.9 339.7 784.5 355.4 791.9 363.7 801.9 370.9 835.9 389.9 850.8 399.7 861 409.5 886.7 438.5 896.6 447.2 906.6 453.3 936.6 465.5 941.5 469.2 957 488.2 962.4 493.2 971.5 498.6 981.5 501.3 991.4 499.7 1016.4 488 1036.3 483.7 1046.3 480.7 1056.3 474.6 1061.3 469.6 1065.5 463.6 1070.3 453.8 1074.4 439 1078.6 399.7 1084.5 375.1 1084.8 350.5 1085.3 345.6 1087.2 340.7 1094.7 330.8 1111.2 313.5 1123.4 296.4 1125.8 291.5 1129.1 271.8 1133.4 257 1138 247.2 1144.5 237.4 1156.1 223.5 1171 208.6 1193.5 193.1 1201 184.9 1203.4 178.3 1203.7 173.4 1200.7 153.7 1201 148.8 1202.6 143.9 1206 139 1212.6 134.1 1220.9 131.1 1235.9 130.5 1255.9 134.8 1290.8 148.2 1300.8 150.2 1310.7 150.2 1320.7 148.6 1330.7 145.4 1355.4 134.1 1370.6 129.2 1390.6 127.2 1415.5 128.5 1415.5 740.9 1409.8 744 1405.1 748.9 1402.4 753.9 1400.7 763.7 1401.5 768.6 1405.5 777.8 1414.8 788.3 881.4 788.3 896.9 773.5 925.5 753.9 946.5 737.4 971.5 724.5 996.4 715.2 1011.4 707.3 1021.4 699.5 1047.4 675.2 1061.3 665.3 1076.2 659.4 1101.2 653.5 1118.5 645.6 1131.1 635.8 1137.8 626 1139.5 621 1140 611.2 1139 606.3 1134.8 596.5 1126.1 585.4 1111.2 573.8 1096.2 567.5 1071.3 562.3 1031.3 551.7 996.4 539.3 981.5 536.8 961.5 538.7 946.5 542.2 931.6 548.1 908.3 562 901.6 564.9 861.7 577 831.8 582 816.8 586.6 808.9 591.5 801.9 598.6 796.8 606.3 793.3 616.1 793.1 626 795.2 630.9 800.3 635.8 818.2 645.6 860.8 660.4 891.7 678.4 916.6 683.4 936.6 683.6 942.9 685 947.1 689.9 948.2 694.8 947.8 699.8 946.5 702.2 941.5 705.1 936.6 705 931.6 703.6 911.6 695.6 896.6 692.4 886.7 693.2 861.7 698.5 846.8 699.8 796.9 700.4 786.9 699.7 776.9 697.3 771.6 694.8 767.2 689.9 765.8 685 766.6 675.2 771.1 655.5 772.1 645.6 771.1 640.7 767.4 635.8 757.5 630.9 747 628.4 722 624.4 702.1 624.1 667.2 627.2 644.7 630.9 631.4 635.8 624.2 640.7 620.1 645.6 618.7 650.6 619.7 655.5 623.6 660.4 630 665.3 647.2 674.4 657.2 677.3 672.1 679.9 677.1 682.6 682.1 689.3 686.7 699.8 689.6 709.6 690 719.4 687.1 726.6 681.2 734.2 672.1 742.7 662.2 749.2 651.9 753.9 637.2 758.6 597.3 767.1 562.4 772.2 537.4 774.5 422.7 774.4 412.7 772.8 402.7 769.5 392.8 764.2 377.1 753.9 367.8 750.9 312.9 746.2 303 743.9 278 736.1 268 734.2 233.1 732.2 183.2 726.8 168.3 726.4 153.3 727.4 113.4 732.7 98.4 737.2 88.4 739 63.5 739.8 58.5 740.9 58.5 128.6 78.5 128.5 138.3 124.7 178.2 124.1ZM712.1 129 737 129 766.9 127.2 826.8 126.6 921.6 133.6 951.5 137.9 992.1 139 1006.8 143.9 1006.4 145.6 1003.6 148.8 986.4 149.9 966.5 155.4 946.5 154.5 936.6 155.7 926.6 159.8 911.6 167.7 906.6 169.2 901.6 169 886.7 165.4 876.7 165.3 866.7 168.5 851.7 175.8 846.8 176.9 821.8 177.9 791.9 184.3 752 182 717 184 682.1 191.9 647.2 195 593.9 212.8 587.3 213.9 577.4 214.1 567.4 212 558.8 207.8 552 202.9 543.1 193.1 537.1 183.2 534.4 173.4 535.5 168.5 539.6 163.6 547.4 159.8 552.4 158.6 567.4 158.3 582.3 161 612.3 172.4 637.2 172.1 642.2 170.9 652.2 164.2 671.2 143.9 682.1 136 687.1 133.6 697.1 130.6 712.1 129Z"/>
<path fill="#0094ff" fill-rule="evenodd" d="M123.4 138.4 158.3 135.5 193.2 134.2 218.1 134.4 307.9 143.5 322.9 146.1 332.9 148.9 342.9 153.4 347.9 156.7 352.8 161.1 358.3 168.5 360.6 173.4 363.2 183.2 366.1 212.8 369.2 227.5 375.9 242.3 382.8 250.4 392.8 258 425.8 276.7 467.6 305.8 477.6 310.1 497.5 314.4 507.5 318.4 515.7 325.9 523.3 335.7 530 340.7 552.4 343.6 682.1 375.9 697.1 377.5 717 377.4 761.9 372.2 771.9 373.9 781.9 378.9 804.4 394.8 818.6 409.5 831.9 429.2 839.5 444 843.1 453.8 845.3 463.6 845.1 473.5 842.5 483.3 835.5 503 830.3 527.6 826.5 537.4 818.6 547.3 793 566.9 767.4 591.5 752 601.5 742 605.1 732 606.9 682.1 610.2 657.2 613.9 632.2 620.9 602.3 632.4 577.1 640.7 570.7 645.6 566.6 650.6 563.8 655.5 561.4 665.3 562.4 694.8 567.9 719.4 567.7 724.4 565.7 729.3 560.2 734.2 552.4 737.9 532.5 744.7 512.5 748 472.6 746.3 432.7 750.1 417.7 750.4 402.7 748 372.8 737.1 362.8 736.2 337.9 737.3 322.9 736.6 307.9 734 283 727.1 273 725.2 223.1 722.1 178.2 715.8 158.3 717.2 128.3 723.8 98.4 728.7 83.4 728.7 58.5 726.1 58.5 149.1 73.5 147.5 123.4 138.4ZM549.5 483.3 545.6 488.2 549.2 493.2 552.4 494.3 557.4 494.5 562.4 493.4 567.7 488.2 565.1 483.3 562.4 482.2 557.4 481.4 549.5 483.3ZM1385.6 148.5 1415.5 149 1415.5 726.1 1405.5 728 1392.2 734.2 1385.1 739.1 1375.8 748.9 1373.1 753.9 1370.7 763.7 1371.2 773.5 1375.1 788.3 964.3 788.3 1011.4 760.4 1026.4 748.8 1053.8 719.4 1059.9 709.6 1068.9 689.9 1076.2 681 1081.2 678.3 1106.2 671.3 1148 650.6 1161.3 640.7 1165.4 635.8 1168 630.9 1169.3 626 1168.7 616.1 1165 606.3 1159.5 596.5 1151.1 584.5 1141.1 572.7 1100.8 532.5 1094.1 522.7 1092.1 517.7 1090.2 507.9 1090.4 493.2 1095.3 448.9 1097.1 404.6 1105.7 360.3 1110.9 345.6 1131.1 307.3 1135.7 296.4 1140.3 281.6 1146.1 269.6 1156.1 256.8 1171 243.7 1191 229.6 1235.9 200.8 1250.9 194.9 1265.8 191.2 1310.7 184.8 1340.7 178.7 1350.6 175.7 1355.7 173.4 1360.6 168.6 1367.5 158.7 1372.2 153.7 1380.6 149.4 1385.6 148.5ZM781.9 153.1 791.9 151.5 801.9 152.4 806.4 153.7 809.1 158.7 804.8 163.6 796.9 168.3 791.9 169.1 787.1 168.5 777.9 163.6 774.8 158.7 779.8 153.7 781.9 153.1ZM567.4 184.8 572.4 183.4 577.4 184.4 582.4 188.2 582.5 193.1 577.4 197.1 573.1 198 567.4 196.1 564.5 193.1 564.1 188.2 567.4 184.8Z"/>
<path fill="#00c0ff" fill-rule="evenodd" d="M143.3 148.2 183.2 145 228.1 145.4 298 151.8 312.9 154.6 326.1 158.7 336 163.6 342.4 168.5 349.3 178.3 352.8 188.3 361.5 227.5 367.6 242.3 372.8 249.9 382.8 259.5 411.7 276.7 424 286.6 437.8 301.3 452.6 323.1 457.6 327.9 462.6 330.7 487.6 334.5 492.5 336.1 509 345.6 522.5 350.8 557.4 356.3 582.3 361.9 677.1 389.4 697.1 391.5 747 390.9 761.9 393.5 771.9 397.8 781.9 404.9 786.9 410.6 791.9 419.4 795 429.2 798.2 453.8 805.1 468.6 807.8 478.4 808.4 488.2 806.9 503 802.7 517.7 797.5 527.6 786.4 542.3 761.9 568.1 747 579.9 732 587.9 712.1 593.4 672.1 599 652.2 603.2 602.3 618.9 570 626 547.4 638.7 537.4 642.3 507.5 647.3 497.5 650.6 490 655.5 481.2 665.3 475.9 675.2 467.4 694.8 460.9 704.7 456.1 709.6 450.1 714.5 437.7 722.1 427.7 726.5 418.5 729.3 402.7 730.7 397.8 730 377.8 723.9 367.8 722.7 357.8 723.3 337.9 726.4 322.9 726.5 312.9 725 283 716.7 253.1 713.9 218.1 712.6 208.2 711.1 188.2 705.8 178.2 704.1 163.3 705.4 128.3 717.2 108.4 721.5 93.4 721.5 68.5 716.9 58.5 716 58.5 173.7 108.4 155.1 123.4 151.5 143.3 148.2ZM550.9 473.5 532.7 478.4 524.6 483.3 522.7 488.2 526.2 493.2 532.5 498.1 542.4 503 552.4 504.5 557.4 504 592.3 496.6 599.9 493.2 601.9 488.2 598.8 483.3 587.8 478.4 564.6 473.5 550.9 473.5ZM1390.6 178.3 1415.5 173.7 1415.5 716 1400.5 717.6 1380.6 723.7 1360.6 732.8 1351.6 739.1 1342.4 748.9 1337.1 758.8 1334.5 768.6 1332 788.3 1095.3 788.3 1071.3 775.5 1062.5 768.6 1059.6 763.7 1058.5 758.8 1058.7 753.9 1062.5 744 1066.3 739.1 1077.5 729.3 1091.2 705.8 1101.2 695.8 1118.9 685 1136.1 676.5 1177 665.3 1188.5 660.4 1196 655 1203.7 645.6 1207.9 635.8 1208.7 630.9 1207.2 621 1201.8 611.2 1176 582.4 1167.7 571.9 1154.3 552.2 1145.7 537.4 1138.2 522.7 1130.2 503 1125.7 488.2 1122.6 473.5 1120.1 453.8 1119 429.2 1119.7 409.5 1121.9 389.9 1128.7 355.4 1139.4 316.1 1148 291.5 1156.1 278.3 1166.1 269.1 1220.9 234.3 1240.9 223.5 1260.8 215.3 1280.8 209.3 1315.7 200.6 1350.6 194.6 1360.6 192 1390.6 178.3Z"/>
<path fill="#02e8f4" fill-rule="evenodd" d="M158.3 158.1 178.2 156.2 213.2 156 278 158.9 293 160.8 305.5 163.6 317.9 167.9 327.9 173.3 333.9 178.3 340.4 188.2 356.8 237.4 364.7 252.1 368.7 257 377.8 265.3 402.7 279.8 410.8 286.6 421.6 301.3 432.8 325.9 437.7 334.1 443.3 340.7 450.7 345.6 457.6 347.5 477.6 347.4 487.6 348.5 517.5 358.1 567.4 367.2 594.7 375.1 657.2 397.4 677.1 403.2 692.1 405 737 407.3 747 409.7 756.9 414.4 766.9 423.7 772.7 434.1 777 448.9 782.4 478.4 782.8 493.2 780.1 507.9 776.2 517.7 768 532.5 757.5 547.3 747 558.2 732 569.7 717 577.4 702.1 581.7 667.2 588.1 647.2 593.1 602.3 608.3 567.4 618.3 547.4 626.5 532.5 628.2 507.5 626.3 492.5 629.1 477.6 634.7 467.6 642 452.6 659.2 431.6 680.1 417.7 697 412.7 700.9 402.7 704.8 392.8 705 372.8 702.6 362.8 703.3 352.8 706.3 332.9 714.5 322.9 715.6 312.9 713.7 298 707.3 288 704.7 263 704.3 238.1 701.7 218.1 702.7 213.2 702.1 205.6 699.8 188.2 691.7 178.2 689 173.2 688.9 163.3 691.7 129.3 709.6 113.4 715.2 108.4 715.7 98.4 715 73.5 707.9 58.5 705.8 58.5 194 73.5 188.5 102.1 173.4 113.4 168.4 133.3 162.9 158.3 158.1ZM540.3 468.6 527.5 471.8 517.5 475.9 512.5 479.3 509.5 483.3 508.8 488.2 511.4 493.2 517.3 498.1 532.5 507.5 542.4 511.7 552.4 513.1 572.4 509 597.3 509.1 622.3 507.7 636.1 503 640.3 498.1 639.1 493.2 634.5 488.2 619.2 478.4 602.3 470.8 587.3 468.1 562.4 467 552.4 467.1 540.3 468.6ZM1400.5 197.2 1415.5 194 1415.5 705.7 1395.5 707.3 1370.6 712.6 1350.6 718.6 1307.3 734.2 1302.5 739.1 1300.8 742.4 1295.4 758.8 1290.1 768.6 1285.8 773.1 1280.8 776.2 1273.4 778.5 1260.8 778.6 1240.9 774.9 1225.9 774 1201 776.9 1171 782.3 1156.1 782.9 1141.1 780.6 1121.2 775.1 1106.2 769.6 1093.4 763.7 1085.9 758.8 1081.7 753.9 1080.1 748.9 1080.8 744 1096.2 730.7 1116.2 710.8 1131.1 700.6 1146.1 694.1 1161.1 690.7 1191 687.1 1206 681.6 1214.9 675.2 1220.9 669.1 1249.3 635.8 1254.6 626 1255 621 1253.3 616.1 1249.2 611.2 1208.1 581.7 1197.1 571.9 1189 562 1182.4 547.3 1172.7 517.7 1154 478.4 1146.9 458.7 1142.4 434.1 1141.7 419.4 1142.2 404.6 1149.9 321 1152.7 306.2 1156.6 296.4 1161.1 289.7 1166.1 285 1171 281.9 1191 273.5 1232 247.2 1245.9 239.7 1265.8 230.6 1315.7 213.5 1330.7 210.5 1360.6 206.5 1400.5 197.2Z"/>
<path fill="#26ffd1" fill-rule="evenodd" d="M223.1 168.5 273 169.2 288 170.6 303 175 318.4 183.2 327.9 193 332.9 201.3 342.9 224.2 351.5 247.2 357.8 258 365.5 266.9 372.8 273 397 286.6 401.5 291.5 406.8 301.3 414.8 325.9 420.2 335.7 428.8 345.6 442.7 355.2 447.6 357.2 457.6 359.1 482.6 358 514.8 365.3 547.4 370.6 562.4 374 593.7 384.9 642.2 406.5 657.2 412.2 677.1 417.2 727 425 737 428.3 746.4 434.1 752 439.9 757.4 448.9 760.7 458.7 761.2 468.6 749.2 522.7 745.7 532.5 740.1 542.3 736.2 547.3 727 555.7 712.1 564.6 697.1 569.4 667.2 575.6 647.2 580.8 557.4 615.9 542.4 618.3 507.5 614.2 491.8 616.1 472.6 621.2 462.6 626 457.6 630.6 444.9 645.6 437.7 651.7 427.7 657.2 412.7 662.5 377.8 667.9 367.8 667.9 342.9 665.4 332.9 667.2 317.9 671.8 293 671.3 288 672.5 283.5 675.2 278 685.9 274.1 689.9 268 691.9 263 691.9 253.1 689.1 245.3 685 233.1 676.5 228.1 674.7 223.1 675.5 213.2 679.4 208.2 679.4 183.2 672.8 173.2 671.9 168.3 672.6 158.3 677 135.9 694.8 121.4 704.7 113.4 708.1 108.4 708.8 93.8 704.7 73.5 694.5 68.5 693.3 58.5 693.1 58.5 210.1 68.5 207.8 81.2 202.9 123.4 181.7 153.3 172.6 173.2 168.8 223.1 168.5ZM534.8 463.6 517.5 468.6 508.7 473.5 503.8 478.4 502.5 480.9 501.4 483.3 501.1 488.2 502.8 493.2 507.5 498.7 527.5 512.5 542.4 519.8 552.4 521.6 577.4 518.5 617.3 522.3 632.2 521.8 642.2 518.8 652.8 512.8 658.3 507.9 664.3 498.1 665.2 493.2 664.5 488.2 661.6 483.3 656.2 478.4 642.2 471.3 612.3 462.3 602.3 460.2 592.3 459.5 552.4 461.4 534.8 463.6ZM66.1 635.8 61.9 640.7 61.7 645.6 66.1 655.5 73.5 663.2 78.5 665.6 83.4 666.2 88.5 665.3 96.8 660.4 99.6 655.5 99.8 650.6 97.9 645.6 94 640.7 86 635.8 78.5 634 73.5 633.9 66.1 635.8ZM1395.5 212.3 1415.5 210.1 1415.5 693.1 1365.6 698.9 1320.7 708.1 1275.8 712.1 1265.8 710.5 1255.1 704.7 1250 699.8 1247.4 694.8 1246.5 689.9 1246.8 685 1248.3 680.1 1251.3 675.2 1266.9 660.4 1280.8 649.6 1290.8 643.4 1328.5 626 1333.8 621 1331.7 616.1 1326 611.2 1310.7 602.3 1260.8 584.7 1243 576.8 1235.8 571.9 1230.6 566.9 1223.4 557.1 1218.9 547.3 1212.5 522.7 1206.6 507.9 1200.5 498.1 1185.4 478.4 1176 464.3 1170.8 453.8 1165.8 439 1163 424.3 1161.9 409.5 1162.4 389.9 1165.6 355.4 1165.3 345.6 1162.3 321 1163.5 306.2 1166.1 300.5 1171 295.2 1176 292.7 1191 289.7 1198.5 286.6 1245.9 256.7 1283.7 237.4 1310.7 226 1325.7 221.9 1355.6 219.2 1395.5 212.3ZM1161.1 714 1171 712.3 1181 711.9 1191 712.6 1201 715 1208.6 719.4 1211.9 724.4 1212.9 729.3 1212.4 734.2 1210.6 739.1 1207.2 744 1201.9 748.9 1194 753.9 1181 759.3 1171 761.9 1161.1 762.9 1151.1 761.4 1143.9 758.8 1136.2 753.9 1131.6 748.9 1129.6 744 1129.7 739.1 1131.6 734.2 1139.8 724.4 1146.1 720 1161.1 714Z"/>
<path fill="#49ffad" fill-rule="evenodd" d="M258.1 183.2 278 183.1 288 185 303 191.6 312.9 199.5 319.9 207.8 327.9 220.7 333.6 232.4 341.3 252.1 349.9 266.9 362.8 281.6 380.7 296.4 384.6 301.3 386.8 306.2 390.2 321 394.5 330.8 398.1 335.7 408.5 345.6 430 360.3 442.7 366.6 452.6 369.4 462.6 369.8 477.6 368.3 487.6 368.4 537.4 375.8 557.4 380.4 572.4 385.8 590.7 394.8 606.7 404.6 632.2 422.3 647.2 431 657.2 434 682.1 437.4 687.6 439 695.9 444 699.6 448.9 699.4 453.8 694 458.7 682.1 462.6 677.1 462.6 672.1 461.4 652.2 451.9 647.2 450.7 627.2 450.5 607.3 448.3 592.3 449.7 567.4 455.1 542.4 456.8 522.5 461 512.5 464.7 505.5 468.6 499.6 473.5 495.9 478.4 494 483.3 493.8 488.2 495.1 493.2 498.2 498.1 503.2 503 532.5 523.5 547.4 529.7 557.4 530.6 577.4 528.9 587.3 529.5 622.3 537.1 632.2 537.8 642.2 535.5 647.2 532.7 682.1 508.4 692.1 502.5 702.1 499.9 707.1 500.2 712.1 501.8 717 504.9 722 510.5 725.4 517.7 726.6 527.6 725.6 532.5 722 539.2 713.2 547.3 702.1 552.7 685.3 557.1 652.2 562.9 642.2 566 587.3 593.8 565 606.3 557.4 609.4 552.4 610.1 542.4 609.5 512.5 604.1 502.5 604.4 487.6 606.7 469.2 611.2 457.6 616.2 451.8 621 442.7 633 437.7 638 432.7 641.7 422.7 646 407.7 648.3 347.9 646.6 317.9 648.6 303 651 288 655.3 263 667.3 258.1 667.6 253.1 666.7 238.1 662.1 228.1 660.4 203.2 660.4 178.2 658.6 163.3 659.4 138.3 664 133.3 663 128.3 659.2 116.7 645.6 104.8 635.8 96.3 630.9 83.4 625.1 58.5 618.6 58.5 223.4 68.5 222 83.4 217.8 133.3 197.7 168.3 187.5 178.2 186.2 258.1 183.2ZM1370.6 227 1390.6 223.5 1415.5 223.4 1415.5 618.6 1395.5 615.5 1385.6 612.1 1352.6 596.5 1294 571.9 1274.8 562 1265.8 555.8 1260.8 551 1255.4 542.3 1245.8 512.8 1240.9 504.4 1227.7 488.2 1204.3 463.6 1193.3 448.9 1188.4 439 1184.9 429.2 1181 409.5 1180.9 389.9 1186.1 345.6 1185.6 340.7 1179.7 321 1179.1 316.1 1179.8 311.1 1181 309.4 1185.5 306.2 1196 303 1211 296 1240.9 276.5 1270.8 259.9 1298.1 242.3 1310.7 235.9 1325.7 231.3 1355.6 229.8 1370.6 227ZM1375.6 654.7 1385.6 652.7 1390.6 653.1 1395.5 655 1401.9 660.4 1404.9 665.3 1405.8 670.2 1403.3 675.2 1395.5 678.7 1385.6 679.2 1365.6 676.3 1355.6 676.4 1350.6 677.5 1331.9 685 1320.7 687 1315.7 686.8 1309.3 685 1303.3 680.1 1301.6 675.2 1302.4 670.2 1305.5 665.3 1310.7 661.3 1315.7 659.1 1325.7 657.7 1350.6 661.4 1355.6 661.3 1365.6 658.8 1375.6 654.7ZM108.4 682.2 113.4 682.3 117.8 685 117.1 689.9 113.4 693.3 108.4 694.5 102.7 689.9 103.5 685 108.4 682.2Z"/>
<path fill="#6aff8d" fill-rule="evenodd" d="M248.1 207.4 268 205.5 283 207.6 293 212.3 298 215.9 307.9 226.2 317.7 242.3 328.5 266.9 338.6 286.6 340.4 296.4 339.4 311.1 340.9 321 343.6 325.9 348.4 330.8 356.7 335.7 376.3 345.6 407.7 359.4 437.7 374.9 447.6 378.8 457.6 380.2 482.6 377.3 492.5 377.2 522.5 380.3 542.4 383.5 557.4 388.2 571 394.8 578.6 399.7 589.9 409.5 596.3 419.4 597.4 424.3 596.5 429.2 592.9 434.1 586.5 439 577.4 444 567.4 447.6 527.5 454.2 517.5 457 507.5 461.1 497.5 467.4 491.1 473.5 487.9 478.4 486 483.3 485.7 488.2 486.9 493.2 489.6 498.1 493.7 503 522.5 525.4 537.4 535.6 547.4 540.1 557.4 542 577.4 540.8 587.3 541.6 592.3 543 600.7 547.3 606 552.2 608.3 557.1 607.8 562 604.8 566.9 592.5 576.8 557.4 599.7 552.4 600.4 547.4 599.8 527.5 594.6 512.5 593.2 492.5 596.5 462.6 603.9 450.1 611.2 432.7 630.6 422.7 635.4 412.7 636.5 387.8 633.7 367.8 632.7 337.9 632.9 317.9 634.1 298 637.9 273 647.6 258.1 651 223.1 648 158.3 646 143.3 643.9 133.3 640.1 115.3 630.9 78.5 614.5 58.5 607 58.5 233.8 68.5 233.6 83.4 231.2 123.4 220.2 138.3 216.9 153.3 215.6 178.2 215.3 218.1 211.9 248.1 207.4ZM1395.5 232.4 1415.5 233.8 1415.5 607 1385.6 597 1353.1 581.7 1310 557.1 1300.8 550.6 1291.3 542.3 1280.8 529.8 1264.8 503 1255.9 490.4 1214.1 444 1208.1 434.1 1203.9 424.3 1201.3 414.4 1199.9 404.6 1199.7 394.8 1203.2 360.3 1204.3 330.8 1205.8 325.9 1208.8 321 1213.6 316.1 1245.9 293.2 1275.8 276.7 1285.8 268.6 1302 252.1 1308.4 247.2 1315.7 243.2 1320.7 241.5 1330.7 239.9 1355.6 239.5 1380.6 234.1 1395.5 232.4Z"/>
<path fill="#8dff6a" fill-rule="evenodd" d="M118.4 236.5 133.3 234.2 148.3 234.1 173.2 237.8 208.2 240.5 248.1 246.6 258.1 249.1 265 252.1 271.8 257 278 265 281.2 271.8 289.4 301.3 297.1 316.1 305.9 325.9 311.9 330.8 327.4 340.7 337.7 345.6 357.8 352.2 377.8 360.3 402.7 367.7 447.6 388.7 457.6 390 477.6 386.2 492.5 385 522.5 387 542.4 390.6 553.4 394.8 562.4 400.1 572.5 409.5 575.6 414.4 577.2 419.4 577.2 424.3 575.4 429.2 571.5 434.1 564.2 439 557.4 441.6 522.5 449.9 512.5 453.1 502.5 457.7 486.8 468.6 478.7 478.4 476.7 483.3 476.3 488.2 477.5 493.2 480.1 498.1 489.1 507.9 513.7 527.6 539.2 552.2 546.3 562 547.7 566.9 546.7 571.9 542.4 575.1 537.4 576.6 517.5 578.6 492.5 587.2 457.6 596.2 447.6 602 442.6 606.3 429.9 621 427.7 623 422.7 625.1 412.7 625.3 397.8 622.4 377.8 620.9 317.9 621.6 298 624.8 288 628.2 273 635.5 258.1 638.7 213.2 635.6 168.3 634.6 148.3 632.1 103.4 618.9 73.5 603.4 58.5 597.1 58.5 242.7 73.5 244.1 83.4 243.6 118.4 236.5ZM1385.6 241.6 1400.5 240.8 1415.5 242.7 1415.5 597.1 1385.6 585.9 1360.6 572.8 1339 557.1 1316.6 537.4 1297.7 517.7 1266.8 478.4 1230.6 439 1222.5 424.3 1219.1 409.5 1219.7 389.9 1228.2 345.6 1232.5 335.7 1240.6 325.9 1259.4 311.1 1285.8 296.1 1295.8 289.1 1301.7 281.6 1310.2 262 1313.8 257 1319.9 252.1 1325.7 250.7 1345.7 251.1 1355.6 250.2 1385.6 241.6Z"/>
<path fill="#b1ff46" fill-rule="evenodd" d="M58.8 252.1 73.5 256.6 83.4 257.7 123.4 248.9 143.3 248.3 173.2 253.1 198.2 259.1 219.2 266.9 233.1 274.9 240.3 281.6 256.6 306.2 269.9 321 288.1 335.7 307.3 345.6 320.8 350.5 352.8 359.9 372.8 367.8 402.7 376.4 447.6 397.3 452.6 398.4 457.6 398.3 477.6 393.9 487.6 392.7 517.5 393.7 527.5 394.6 537.4 396.7 545.4 399.7 552.4 404 558 409.5 560.9 414.4 562.1 419.4 561.5 424.3 557.4 430.4 552.6 434.1 547.4 436.6 512.5 447.1 497.5 454.2 476.2 468.6 471 473.5 464.9 483.3 464.1 488.2 465.4 493.2 468.7 498.1 478.4 507.9 502 527.6 515.4 542.3 518.4 547.3 519.9 552.2 518.7 557.1 501.2 571.9 493.8 576.8 482.6 581.2 462.6 584.7 452.6 587.8 442.7 593.6 422.7 609.9 417.7 611.7 362.8 609.7 312.9 610.7 298 612.9 288 615.6 273 623.7 268 625.8 263 626.8 253.1 626.9 213.2 623.3 168.3 623.1 113.4 615.1 103.4 611.8 78.5 597 58.5 587.8 58.8 252.1ZM1380.6 252 1390.6 249.2 1395.5 248.7 1405.5 249.5 1415.5 252 1415.5 587.8 1395.5 580.3 1380.6 573.4 1370.1 566.9 1357.8 557.1 1291.6 483.3 1247.2 439 1240.2 429.2 1237.9 424.3 1235.5 414.4 1235.5 404.6 1237.2 394.8 1243.5 375.1 1260.5 345.6 1268 335.7 1278.9 325.9 1313.3 301.3 1322.4 291.5 1330.7 279.9 1334.3 276.7 1350.6 270.1 1370.8 257 1380.6 252Z"/>
<path fill="#d1ff26" fill-rule="evenodd" d="M128.3 261.7 143.3 262.3 163.3 266 178.2 270.5 191.4 276.7 199.2 281.6 211.2 291.5 228.4 311.1 239.3 321 281.1 345.6 303 355.4 347.9 365.9 372.8 375 397.8 382.6 412.7 388.9 437.7 401.4 447.6 404.7 457.6 405.2 482.6 400.6 497.5 400.3 527.5 402.4 537.4 405.2 543.9 409.5 547.5 414.4 548.5 419.4 547.2 424.3 542.7 429.2 532.7 434.1 507.5 442.4 469.3 463.6 457 473.5 453.5 478.4 451.5 483.3 450.8 488.2 451.5 493.2 454.2 498.1 489.7 527.6 498.8 537.4 501.7 542.3 503.1 547.3 502.7 552.2 500.3 557.1 496.4 562 491.2 566.9 482.6 572 477.6 573.3 457.6 574.7 452.6 575.9 442.7 580.8 422.7 593.7 412.7 597.7 397.8 599.2 332.9 599.2 307.9 600.6 288 604 268 611.4 258.1 613.2 218.1 610.6 168.3 610.7 113.4 607.3 108.4 605.7 78.5 587.8 58.5 579 58.5 265.2 64.5 271.8 66.7 276.7 67.6 291.5 68.9 296.4 73.5 301.4 78.5 303.2 83.4 303.7 90.5 301.3 93.1 296.4 94.2 281.6 96.3 276.7 100.5 271.8 107.9 266.9 113.4 264.6 128.3 261.7ZM1385.6 260.9 1390.6 258.5 1395.5 257.4 1400.5 257.8 1410.5 261.5 1415.5 265.2 1415.5 579 1396.3 571.9 1386.5 566.9 1375.6 559.4 1367.8 552.2 1359.8 542.3 1345.7 518.8 1337.3 507.9 1297.5 468.6 1260.8 437.1 1254.1 429.2 1251.3 424.3 1248.5 414.4 1249.3 404.6 1256.6 384.9 1265.8 370.1 1280.8 351 1295.8 336.8 1315.7 322.6 1335.7 310 1362 296.4 1367 291.5 1369.8 286.6 1375.5 271.8 1378.8 266.9 1385.6 260.9Z"/>
<path fill="#f4f802" fill-rule="evenodd" d="M118.4 279.7 123.4 278.4 133.3 278.3 150 281.6 165.7 286.6 173.9 291.5 187.6 306.2 198.6 316.1 213.3 325.9 228.1 333.9 258.1 344.7 298 363.3 307.9 366 337.9 370.2 352.8 374.1 397.8 390.5 432.7 407.5 442.7 411.2 452.6 412.4 477.6 408.5 487.6 408.2 522.5 412.6 530.3 414.4 533.8 419.4 529.3 424.3 512.5 430.6 482.6 448.5 452.6 462.3 445.4 468.6 441.9 473.5 439.9 478.4 439.4 488.2 443.1 498.1 447.6 503.4 460 512.8 476.3 527.6 485.4 537.4 488.4 542.3 489.5 547.3 487.6 553.8 482.6 559.1 477.6 561.7 452.6 563.7 445.1 566.9 417.7 582.4 402.7 587 377.8 589.7 332.9 589.3 307.9 590.5 293 591.9 258.1 597.3 118.4 597 108.4 593.8 83.4 580.6 58.5 570.6 58.5 310.9 68.5 316.1 83.4 320.2 93.4 320.8 103.4 318.6 107.8 316.1 111.9 311.1 113.3 306.2 111.9 286.5 113.4 283.6 118.4 279.7ZM1390.6 298.5 1395.5 296.9 1400.5 298.8 1408.7 306.2 1415.5 310.9 1415.5 570.6 1395.5 563.1 1386.4 557.1 1380.7 552.2 1376.2 547.3 1369.5 537.4 1359 512.8 1350.6 500 1339.3 488.2 1301.3 453.8 1270.3 429.2 1265.6 424.3 1262.5 419.4 1260.9 414.4 1261.1 409.5 1262.6 404.6 1270.8 390 1290.8 365.3 1305.6 350.5 1315.7 342.5 1330.7 332.6 1371.5 311.1 1390.6 298.5Z"/>
<path fill="#ffd000" fill-rule="evenodd" d="M59.1 325.9 83.4 332.2 98.4 334.2 113.4 334.3 143.3 329.7 153.3 329.1 188.2 334.2 253.1 352.3 298 372 307.9 374.1 337.9 376.5 351.3 380 397.8 399.3 422.7 412.6 442.7 421.2 452.6 421.6 467.6 417.9 477.6 416.7 482.6 417.2 489.3 419.4 493.7 424.3 493 429.2 489.6 434.1 482.6 439.8 473.5 444 452.6 448.3 442.7 452.4 434.4 458.7 430.1 463.6 425.7 473.5 425.9 483.3 432 498.1 439.7 507.9 455.9 522.7 464.4 532.5 467.5 537.4 468.6 542.3 467.6 544.8 466 547.3 462.6 549 442.7 556.3 422.7 567.8 412.7 572.4 392.8 578 372.8 580.6 332.9 579.9 263 583 233.1 582 203.2 585.1 168.3 582.4 128.3 583.6 113.4 581.3 87.4 571.9 58.5 563.3 58.5 325.7 59.1 325.9ZM1380.6 325.3 1395.5 322.5 1405.5 323.3 1415.5 325.7 1415.5 563.3 1400.1 557.1 1387.8 547.3 1383.9 542.3 1378.4 532.5 1370.5 507.9 1362.3 493.2 1348.4 478.4 1320.7 454.7 1298.5 434.1 1289.3 424.3 1283.5 414.4 1283.2 409.5 1284.6 404.6 1290.3 394.8 1304.1 375.1 1318.2 360.3 1330.7 350.5 1345.7 341.2 1365.6 331.2 1380.6 325.3Z"/>
<path fill="#ffab00" fill-rule="evenodd" d="M63.5 338.5 88.4 344.1 108.4 346.9 153.3 346.1 188.2 347.7 203.2 349.4 238.1 356.5 253.1 360.5 268 366.2 298 380.3 307.9 381.7 337.9 382.7 347.9 385.1 358.9 389.9 393.5 409.5 412.8 424.3 417.4 429.2 419.3 434.1 418.4 439 411.5 448.9 398.5 463.6 397.3 468.6 399.8 473.5 437.9 522.7 440.9 527.6 442.4 532.5 442 537.4 439 542.3 434 547.3 422.7 555.7 412.7 561.2 387.8 569.3 367.8 572 337.9 571 312.9 571.8 268 571.2 233.1 568.8 213.2 573.3 203.2 573.7 193.2 572.5 168.3 567.3 138.3 567.5 123.4 566.3 58.5 556.2 58.5 337.5 63.5 338.5ZM1380.6 340.4 1395.5 337 1405.5 336.5 1415.5 337.5 1415.5 556.2 1406.6 552.2 1400.5 548 1394.8 542.3 1391.4 537.4 1387.1 527.6 1382.3 503 1378 493.2 1374.7 488.2 1366.5 478.4 1356.4 468.6 1332 448.9 1321.5 439 1313.4 429.2 1310.5 424.3 1307.3 414.4 1308.1 404.6 1311.5 394.8 1316.8 384.9 1325.7 373.9 1335.7 364.9 1350.6 354.6 1365.6 346.5 1380.6 340.4Z"/>
<path fill="#ff8200" fill-rule="evenodd" d="M63.5 349.9 88.4 354.6 108.4 357.2 188.2 357.9 223.1 361.4 243.1 365.2 258.1 369.7 298 387.6 307.9 388.7 337.9 389 342.9 390 352.8 394.3 361.2 399.7 372.7 409.5 380.5 419.4 382.5 424.3 383.1 429.2 382.2 434.1 379.9 439 368.8 453.8 364.1 463.6 364 468.6 366.1 473.5 370.6 478.4 377.7 483.3 397.8 494.4 407.7 502.7 412.4 507.9 422 522.7 423.6 527.6 424 532.5 422.8 537.4 420 542.3 415.3 547.3 402.7 554.8 382.8 561.3 362.8 563.8 342.9 562.9 307.9 563 238.1 558.7 228.1 559.4 218.1 562.5 208.2 563.5 198.2 562.3 173.2 555.9 138.3 551.6 113.4 545.5 103.4 545.5 78.5 549.2 68.5 549.1 58.5 547.1 58.5 349.2 63.5 349.9ZM1395.5 350.1 1405.5 348.9 1415.5 349.2 1415.5 547.1 1405.5 540.8 1399.4 532.5 1397 522.7 1398.9 503 1397.9 498.1 1392.6 488.2 1384.2 478.4 1368.8 463.6 1340.7 440.9 1333.5 434.1 1326.5 424.3 1323.5 414.4 1324.3 404.6 1328.3 394.8 1335.5 384.9 1340.7 379.7 1352.2 370.2 1367.8 360.3 1380.6 354.4 1395.5 350.1Z"/>
<path fill="#ff5900" fill-rule="evenodd" d="M63.5 361.7 93.4 365.9 113.4 367.5 188.2 367.1 228.1 369.6 243.1 372.5 258.1 377.1 298 393.9 307.9 395.6 332.9 395.6 342.9 397.6 352.8 404.5 357.2 409.5 361.9 419.4 362.5 424.3 361.8 429.2 357.1 439 345.4 453.8 337.9 465 333.8 468.6 331.7 473.5 332.9 476.3 334.2 478.4 341.5 483.3 377.8 498 395.1 507.9 402.7 515.6 407.1 522.7 408.6 527.6 408.7 532.5 407.2 537.4 403.2 542.3 397.8 545.9 382.8 551.8 367.8 555 352.8 555.7 312.9 554.7 243.1 549.3 233.1 549.5 213.2 552.6 203.2 552 143.3 538.5 118.4 529.8 108.4 527.5 103.4 527.4 93.4 529.1 78.5 534.9 68.5 537.1 63.5 536.7 58.5 534.8 58.5 515.2 62 512.8 65.9 507.9 66.9 503 66.2 498.1 63.9 493.2 58.5 486.4 58.5 361.4 63.5 361.7ZM1390.6 364.7 1400.5 362.3 1415.5 361.4 1415.5 486.4 1351.5 434.1 1342.3 424.3 1339.6 419.4 1338.3 414.4 1338.7 409.5 1340.4 404.6 1343.5 399.7 1357.5 384.9 1365.6 378 1375.6 371.3 1390.6 364.7ZM1415.5 515.2 1415.5 534.8 1410.5 529.9 1409.4 527.6 1409.3 522.7 1412.4 517.7 1415.5 515.2Z"/>
<path fill="#ff3400" fill-rule="evenodd" d="M63.5 374.2 98.4 377.5 123.4 378.4 173.2 376.4 213.2 376.2 228.1 377.1 243.1 380 258.1 384.8 283 393.8 303 402.5 327.9 405 337.9 407.9 343.8 414.4 345.2 419.4 345.2 424.3 341.8 434.1 327.9 453.2 317.9 459.1 307.9 461.9 303 461.8 288 457.1 283 456.5 278 457.4 273 460.5 270.6 463.6 270.3 468.6 273.3 473.5 278 476.3 303 481.9 322.9 493.2 332.9 497.4 362.8 505.6 372.8 509.9 382.8 516.7 387.8 522.7 389.5 527.6 388.8 532.5 384.7 537.4 376.2 542.3 362.8 546.4 352.8 547.5 322.9 546.4 248.1 539.2 208.2 540.3 193.2 537.8 153.3 527.9 138.3 523.1 123.4 516.9 105.6 507.9 99.1 503 95.2 498.1 87.1 483.3 82.7 478.4 76 473.5 58.5 464.8 58.5 374.2 63.5 374.2ZM1405.5 374.9 1415.5 374.2 1415.5 464.8 1395.5 454.4 1385.6 447.5 1375.6 439 1362.6 424.3 1360.2 419.4 1359.3 414.4 1360.2 409.5 1362.6 404.6 1369.6 394.8 1375.6 388.5 1380.6 384.5 1390.6 379 1405.5 374.9Z"/>
<path fill="#f60b00" fill-rule="evenodd" d="M218.1 384.8 228.1 385 238.1 386.9 278 400.6 298 411.6 317.9 418.9 323.1 424.3 323.5 429.2 321.7 434.1 317.9 438.6 312.9 441.3 307.9 442.1 303 441.7 283 438.5 273 439.4 257.8 444 237.1 453.8 231.7 458.7 230.2 463.6 231 468.6 233.9 473.5 239.3 478.4 247.9 483.3 283 495.8 307.9 506.5 332.9 514.3 351.9 517.7 357.8 520.2 361.4 522.7 363.6 527.6 361.5 532.5 352.8 536.5 347.9 536.7 322.9 534.7 293 529.3 268 528.7 238.1 525.2 208.2 525.4 168.3 517.3 128.3 504 123.4 501.7 118.5 498.1 116.3 493.2 115.9 488.2 119 473.5 118.8 468.6 116.8 463.6 113.4 459.9 108.4 456.5 98.4 453.2 73.5 450.8 58.5 447.9 58.5 388.3 98.4 391.2 133.3 391.4 168.3 387 193.2 387 218.1 384.8ZM1405.5 389.2 1415.5 388.3 1415.5 447.9 1400.5 442 1390.6 435.1 1384.9 429.2 1379.8 419.4 1379.3 414.4 1380.1 409.5 1382.2 404.6 1385.8 399.7 1395.5 392.5 1405.5 389.2Z"/>
<path fill="#c40000" fill-rule="evenodd" d="M223.1 394.8 228.1 394.7 233.1 396 241.7 399.7 249.5 404.6 255.3 409.5 258.1 414.4 256.5 419.4 250.2 424.3 223.1 437 203.2 451.4 198.2 453.4 193.2 453.7 188.2 452.1 173.2 441.1 158.3 432.4 154.1 429.2 150.4 424.3 149.4 419.4 150.9 414.4 155.3 409.5 163.3 404.4 173.2 401.4 188.2 402 198.2 401.1 223.1 394.8ZM63.5 406.7 73.5 410.7 77.5 414.4 78.6 419.4 75.9 424.3 73.5 425.9 68.5 428.3 58.5 429.3 58.5 405.8 63.5 406.7ZM1405.5 406.8 1410.5 405.7 1415.5 405.8 1415.5 429.3 1405.5 425.9 1399.6 419.4 1399 414.4 1400.5 410.9 1405.5 406.8Z"/>
<use href="#coast" transform="translate(0 0)"/>
</g>
<rect x="58.5" y="119.3" width="1357.0" height="669.0" fill="none" stroke="#000" stroke-width="3.33"/>
<rect x="58.50" y="831.8" width="57.14" height="67.10000000000002" fill="#000096"/>
<rect x="115.04" y="831.8" width="57.14" height="67.10000000000002" fill="#0000c8"/>
<rect x="171.58" y="831.8" width="57.14" height="67.10000000000002" fill="#0000f6"/>
<rect x="228.12" y="831.8" width="57.14" height="67.10000000000002" fill="#0014ff"/>
<rect x="284.67" y="831.8" width="57.14" height="67.10000000000002" fill="#0040ff"/>
<rect x="341.21" y="831.8" width="57.14" height="67.10000000000002" fill="#0068ff"/>
<rect x="397.75" y="831.8" width="57.14" height="67.10000000000002" fill="#0094ff"/>
<rect x="454.29" y="831.8" width="57.14" height="67.10000000000002" fill="#00c0ff"/>
<rect x="510.83" y="831.8" width="57.14" height="67.10000000000002" fill="#02e8f4"/>
<rect x="567.38" y="831.8" width="57.14" height="67.10000000000002" fill="#26ffd1"/>
<rect x="623.92" y="831.8" width="57.14" height="67.10000000000002" fill="#49ffad"/>
<rect x="680.46" y="831.8" width="57.14" height="67.10000000000002" fill="#6aff8d"/>
<rect x="737.00" y="831.8" width="57.14" height="67.10000000000002" fill="#8dff6a"/>
<rect x="793.54" y="831.8" width="57.14" height="67.10000000000002" fill="#b1ff46"/>
<rect x="850.08" y="831.8" width="57.14" height="67.10000000000002" fill="#d1ff26"/>
<rect x="906.62" y="831.8" width="57.14" height="67.10000000000002" fill="#f4f802"/>
<rect x="963.17" y="831.8" width="57.14" height="67.10000000000002" fill="#ffd000"/>
<rect x="1019.71" y="831.8" width="57.14" height="67.10000000000002" fill="#ffab00"/>
<rect x="1076.25" y="831.8" width="57.14" height="67.10000000000002" fill="#ff8200"/>
<rect x="1132.79" y="831.8" width="57.14" height="67.10000000000002" fill="#ff5900"/>
<rect x="1189.33" y="831.8" width="57.14" height="67.10000000000002" fill="#ff3400"/>
<rect x="1245.88" y="831.8" width="57.14" height="67.10000000000002" fill="#f60b00"/>
<rect x="1302.42" y="831.8" width="57.14" height="67.10000000000002" fill="#c40000"/>
<rect x="1358.96" y="831.8" width="57.14" height="67.10000000000002" fill="#960000"/>
<rect x="58.5" y="831.8" width="1357.0" height="67.10000000000002" fill="none" stroke="#000" stroke-width="3.33"/>
<line x1="58.50" y1="898.9" x2="58.50" y2="915.10" stroke="#000" stroke-width="3.33"/>
<text transform="translate(58.50 960.5) scale(1.06 1)" font-size="44" text-anchor="middle">0</text>
<line x1="228.12" y1="898.9" x2="228.12" y2="915.10" stroke="#000" stroke-width="3.33"/>
<text transform="translate(228.12 960.5) scale(1.06 1)" font-size="44" text-anchor="middle">15</text>
<line x1="397.75" y1="898.9" x2="397.75" y2="915.10" stroke="#000" stroke-width="3.33"/>
<text transform="translate(397.75 960.5) scale(1.06 1)" font-size="44" text-anchor="middle">30</text>
<line x1="567.38" y1="898.9" x2="567.38" y2="915.10" stroke="#000" stroke-width="3.33"/>
<text transform="translate(567.38 960.5) scale(1.06 1)" font-size="44" text-anchor="middle">45</text>
<line x1="737.00" y1="898.9" x2="737.00" y2="915.10" stroke="#000" stroke-width="3.33"/>
<text transform="translate(737.00 960.5) scale(1.06 1)" font-size="44" text-anchor="middle">60</text>
<line x1="906.62" y1="898.9" x2="906.62" y2="915.10" stroke="#000" stroke-width="3.33"/>
<text transform="translate(906.62 960.5) scale(1.06 1)" font-size="44" text-anchor="middle">75</text>
<line x1="1076.25" y1="898.9" x2="1076.25" y2="915.10" stroke="#000" stroke-width="3.33"/>
<text transform="translate(1076.25 960.5) scale(1.06 1)" font-size="44" text-anchor="middle">90</text>
<line x1="1245.88" y1="898.9" x2="1245.88" y2="915.10" stroke="#000" stroke-width="3.33"/>
<text transform="translate(1245.88 960.5) scale(1.06 1)" font-size="44" text-anchor="middle">105</text>
<line x1="1415.50" y1="898.9" x2="1415.50" y2="915.10" stroke="#000" stroke-width="3.33"/>
<text transform="translate(1415.50 960.5) scale(1.06 1)" font-size="44" text-anchor="middle">120</text>
<text x="124.0" y="1079.3" font-size="51" textLength="1226.0" lengthAdjust="spacingAndGlyphs">Ionosphere  (h=450.0 km), 2000-10-23 00:00 UT</text>
<g clip-path="url(#clip1)">
<rect x="58.5" y="1104.3" width="1357.0" height="669.0" fill="#000096"/>
<path fill="#0000c8" fill-rule="evenodd" d="M63.5 1104.3 1415.5 1104.3 1415.5 1773.3 58.5 1773.3 58.5 1104.3 63.5 1104.3ZM444.9 1212.5 442.7 1217.5 447.6 1221.1 452.6 1219.9 453.7 1217.4 452.6 1215.9 448.4 1212.5 444.9 1212.5ZM990.4 1365 981.5 1368.4 976.5 1371.4 972.8 1374.9 970.3 1379.8 970.3 1384.7 971.6 1389.6 979.2 1409.3 982.4 1414.2 986.4 1418.3 996.5 1424 1006.4 1426.4 1011.4 1426.6 1021.4 1423.8 1027.2 1419.1 1030.6 1414.2 1032.1 1409.3 1031.3 1399.4 1026.4 1388.4 1011.4 1363.6 1006.4 1361.2 990.4 1365Z"/>
<path fill="#0000f6" fill-rule="evenodd" d="M63.5 1104.3 347 1104.3 372.8 1108.4 412.7 1118 432.7 1120 482.6 1114 532.5 1110.7 627.2 1112.3 647.2 1110.1 681 1104.3 1415.5 1104.3 1415.5 1773.3 58.5 1773.3 58.5 1104.3 63.5 1104.3ZM424 1173.2 414.6 1178.1 407.7 1184.3 403.1 1192.8 402.6 1202.7 404.3 1207.6 407.4 1212.5 432.7 1246.4 437.7 1249.1 442.7 1249.7 467.6 1247.7 502.5 1250.6 512.5 1248.9 516.9 1247 522 1242 523.7 1237.1 523.2 1232.2 521.2 1227.3 517.6 1222.4 506.1 1212.5 472.6 1188.8 457.6 1179.3 442.7 1172.8 432.7 1171.4 424 1173.2ZM880.2 1178.1 866.7 1180 836.8 1180.5 821.8 1183.8 801.9 1190.8 786.9 1198.8 776.5 1207.6 769.5 1217.4 766 1227.3 765.6 1237.1 767.9 1247 771.9 1255.8 775.8 1261.7 781.9 1267.6 786.9 1269.5 791.9 1269.7 811.8 1265.7 821.8 1264.9 831.8 1265.5 841.8 1268.1 851.7 1273.6 854.9 1276.5 857.7 1281.4 858.3 1286.3 856.1 1291.2 850.2 1296.1 826.8 1311.3 816.8 1315.1 811.8 1315.1 800.7 1310.9 781.9 1297.2 776.9 1294.3 771.9 1293 742 1295.7 732 1294.5 702.1 1287.2 687.1 1288 677.1 1291.4 669.1 1296.1 662.2 1302.2 657.2 1309.5 654.9 1315.8 653.9 1325.7 655.7 1335.5 657.8 1340.4 661.1 1345.3 666.2 1350.3 672.1 1354 677.1 1356.1 687.1 1358.2 702.1 1357.1 732 1347 747 1343.8 761.9 1344.5 776.9 1348.3 791.9 1353.5 801.9 1357.9 811.8 1364.3 837 1384.7 863.1 1399.4 874.3 1409.3 886.3 1429 892.7 1433.9 901.6 1436.9 926.6 1441.3 966.4 1453.6 996.4 1459.8 1006.4 1460.7 1016.4 1459.9 1026.4 1456.6 1031.3 1454 1041.3 1446.7 1054 1433.9 1060.6 1424 1064 1414.2 1065.5 1399.4 1066 1360.1 1071.4 1301.1 1071.3 1282.1 1068.7 1271.5 1062.7 1261.7 1042.2 1237.1 1039.6 1232.2 1038.3 1227.3 1038.8 1222.4 1046.9 1202.7 1047.8 1192.8 1046.3 1187.3 1043.2 1183 1036.3 1179.4 1021.4 1178.1 986.4 1180.9 976.5 1183 956.5 1189.7 941.5 1191.2 931.6 1188.9 906.6 1176.8 896.6 1175.6 880.2 1178.1ZM564.1 1296.1 557.4 1301.1 554.5 1306 553.8 1310.9 555 1315.8 557.8 1320.7 562.4 1325.7 572.4 1332.2 582.3 1333.8 592.3 1331 598.3 1325.7 600.9 1320.7 602.3 1310.9 601.1 1306 597.3 1300.1 592.1 1296.1 582.3 1293.2 572.4 1293.5 564.1 1296.1ZM975.1 1581.5 969.4 1586.4 967.2 1591.3 963.2 1611 966.5 1620.2 970.8 1625.7 976.5 1630.3 981.5 1632.8 986.4 1634.3 996.4 1635.1 1006.4 1633.5 1026.4 1628 1046.3 1629.4 1051.3 1629 1059 1625.7 1063.2 1620.8 1064.3 1615.9 1063 1611 1061.3 1608.7 1056.3 1605.3 1026.4 1601 1021.4 1598.2 1006.5 1586.4 996.4 1581.7 986.4 1579.7 981.5 1579.8 975.1 1581.5Z"/>
<path fill="#0014ff" fill-rule="evenodd" d="M63.5 1104.3 233.1 1104.3 317.9 1110.9 342.9 1115.1 362.8 1120.7 379.3 1128.9 385.9 1133.8 394.1 1143.7 396 1148.6 396.5 1153.5 395.7 1158.4 387.8 1173.3 384.7 1183 384.5 1187.9 386.5 1197.8 394 1212.5 412.7 1237.1 427.4 1261.7 432.7 1264.3 437.7 1264.9 452.6 1262.6 462.6 1262.8 475.7 1266.6 497.6 1276.5 503.3 1281.4 503.5 1286.3 497.7 1306 497.5 1311.1 498.8 1315.8 502.6 1320.7 510 1325.7 542.4 1337.5 572.4 1350.2 607.3 1360.7 632.2 1370.5 652.2 1376.5 672.1 1381.1 687.1 1382.7 707.1 1381.6 737 1377.2 752 1377.8 771.9 1380.9 791.9 1385.9 811.8 1399.9 836.8 1408.8 841.8 1411.7 844.5 1414.2 847 1419.1 846.1 1424 839.9 1433.9 838.2 1438.8 838.1 1443.7 841.4 1453.6 850.6 1473.2 852.6 1483.1 852.6 1488 850.4 1497.8 848.3 1502.7 841.8 1512.6 829.7 1527.3 826.9 1532.3 826.9 1537.2 834 1542.1 846.8 1546.8 871.7 1551.4 876.7 1553.5 886.7 1560.5 892.5 1566.7 899 1576.5 904 1591.3 904.8 1606.1 906.6 1610.5 911.6 1613.8 916.6 1613.3 928.6 1606 936.6 1602.7 941.5 1604.6 942.6 1606 943 1611 937 1640.5 936.9 1650.3 938.2 1655.2 941.5 1659.3 946.5 1661.8 956.5 1663.9 976.5 1666.1 991.4 1663.4 1016.4 1654 1046.3 1648.9 1066.3 1642.5 1080.5 1635.6 1095.5 1625.7 1100.8 1620.8 1104.5 1615.9 1106.4 1611 1106.6 1606 1105.4 1601.1 1099.8 1591.3 1091.2 1581.8 1081.2 1574.5 1061.3 1564.7 1021.4 1549.1 996.4 1536.3 986.4 1533.4 956.5 1527.9 939.6 1522.4 929.5 1517.5 915.6 1507.7 911.9 1502.7 911.1 1497.8 914.1 1492.9 921.1 1488 936.6 1481.6 951.5 1478.8 961.5 1479 971.5 1481 996.4 1491.6 1006.4 1494.7 1016.4 1494.8 1021.4 1493.5 1031.3 1487.6 1041.3 1477.9 1071.4 1438.8 1079.4 1424 1084.8 1404.4 1091.7 1345.3 1104.5 1271.5 1105 1256.8 1101.3 1227.3 1103.1 1217.4 1105.9 1212.5 1110 1207.6 1121.6 1197.8 1156.1 1176.2 1176 1165.5 1225.9 1144.1 1233.8 1138.7 1238.2 1133.8 1241 1128.9 1246.5 1109.2 1249 1104.3 1415.5 1104.3 1415.5 1773.3 58.5 1773.3 58.5 1104.3 63.5 1104.3ZM533.6 1468.3 531.8 1473.2 537.4 1476.2 542.4 1475.7 546.3 1473.2 546.3 1468.3 542.4 1466.6 537.4 1466.7 533.6 1468.3ZM646.6 1615.9 652.2 1617.6 656 1615.9 652.2 1613.7 647.2 1614.4 646.6 1615.9ZM905.3 1670 889.4 1679.8 873.3 1684.8 851.7 1686.7 811.8 1686.2 796.9 1688.4 781.9 1693.1 771.6 1699.5 762.6 1709.4 758.4 1719.2 758.2 1724.1 759.2 1729 761.7 1733.9 766 1738.9 771.9 1743.1 781.9 1747.3 796.9 1750.4 816.8 1752 836.8 1751.5 861.7 1749.1 876.7 1745.2 888.1 1738.9 898.2 1729 911.9 1709.4 919.5 1694.6 922.6 1684.8 923.1 1679.8 922.8 1674.9 921.6 1672.1 920 1670 916.6 1668 911.6 1667.4 905.3 1670ZM160.1 1719.2 118.4 1720.3 113.4 1721.3 96 1729 80.5 1738.9 77 1743.8 76.3 1748.7 78.5 1753.8 83.4 1757.3 88.4 1759 118.4 1760.1 143.3 1762.2 193.2 1758.4 214.1 1753.6 222.9 1748.7 225.8 1743.8 224.9 1738.9 221.2 1733.9 218.1 1732 212.8 1729 178.2 1720 173.2 1719.1 160.1 1719.2ZM291.5 1743.8 285.7 1748.7 286.6 1753.6 288 1754.8 293 1757.7 298 1759 303.6 1758.5 307.9 1754 306.2 1748.7 299.1 1743.8 291.5 1743.8ZM737 1123.8 761.9 1121 776.9 1120.9 791.9 1122.8 806.8 1127.4 819.1 1133.8 823.9 1138.7 822.1 1143.7 811.9 1153.5 804.2 1158.4 781.9 1169.7 742 1186.8 722 1191.5 692.1 1192.9 677.1 1195.3 667.2 1198.8 637.2 1213.2 612.3 1222 602.3 1224.3 592.3 1224.5 577.4 1221.3 547.4 1210.1 517.5 1194.3 499.8 1183 488.9 1173.2 481.7 1163.3 479.6 1158.4 478.8 1153.5 479.6 1148.6 482.4 1143.7 487.8 1138.7 502.5 1132.1 522.5 1128.2 542.4 1126.6 562.4 1126.6 632.2 1131.7 662.2 1132.4 697.1 1129.7 737 1123.8ZM856.7 1123 866.7 1120.6 876.7 1120.3 886.7 1122.3 906.6 1128.5 916.6 1127.8 933.9 1124 946.5 1124 956.5 1127 961.5 1129.8 966.5 1135.6 967.8 1138.7 967.6 1143.7 965.5 1148.6 956.5 1159.9 951.5 1163.9 946.5 1166 941.5 1166.5 931.6 1163.9 911.6 1149.7 906.6 1148.6 901.6 1149.3 881.7 1158.8 871.7 1160.6 866.7 1160.1 861.3 1158.4 845.3 1148.6 838.6 1143.7 835.2 1138.7 838.1 1133.8 844.4 1128.9 856.7 1123Z"/>
<path fill="#0040ff" fill-rule="evenodd" d="M148.3 1109.1 193.2 1110.4 312.9 1120.3 337.9 1124.9 352.8 1130.6 358.2 1133.8 363.9 1138.7 367.5 1143.7 369.6 1148.6 370.4 1158.4 365.1 1178.1 365.2 1183 369.7 1192.8 383 1212.5 406.5 1242 422.7 1268.4 427.7 1273 432.7 1275.9 437.7 1277.8 452.6 1279.5 456.7 1281.4 460.9 1286.3 463 1291.2 466.5 1310.9 469.5 1320.7 472.1 1325.7 477.6 1331.7 483.4 1335.5 495.4 1340.4 537.4 1350.4 557.4 1357.5 582 1369.9 612.3 1388.9 622.3 1393.2 632.2 1395.2 682.1 1401.1 722 1404.7 737 1408 747 1412.8 755.1 1419.1 775.6 1443.7 781.9 1449.5 791.9 1455.3 811.8 1459.7 816.8 1461.9 821.8 1467.1 823.7 1473.2 821.8 1480.2 816.8 1485.5 806.8 1490.9 801.9 1495.2 795.1 1517.5 789.9 1527.3 777.3 1547 774.8 1556.9 775.1 1561.8 779 1576.5 778.2 1581.5 774 1586.4 766.9 1589.9 761.9 1590.7 757 1590.4 742 1585.8 732 1583.9 697.1 1587.2 662.2 1587.8 647.2 1589.1 637.2 1591.5 627.9 1596.2 621.9 1601.1 614 1611 610 1620.8 609.6 1625.7 610.5 1630.6 612.3 1634.5 617.3 1640.5 627.2 1647.3 647.2 1656.8 662.2 1661.3 682.1 1665.3 689.3 1670 693.2 1674.9 695 1679.8 695.2 1684.8 694.5 1689.7 691.1 1699.5 682.1 1715.6 670.6 1729 662.2 1735.3 652.2 1740.4 642.2 1743.6 632.2 1745.4 617.3 1746.4 592.3 1746 577.4 1746.8 532.5 1756.5 497.5 1761 477.6 1762 442.7 1761.7 417.7 1760.3 397.8 1756.6 362.8 1745.5 332.9 1732.5 307.9 1726.4 293 1724.7 268 1726.6 258.1 1725.9 248.1 1722.7 232.3 1714.3 223.1 1710.7 213.2 1708.4 193.2 1705.7 163.3 1704.4 118.4 1707.8 58.5 1719.5 58.5 1117.8 93.4 1112.9 148.3 1109.1ZM530.6 1458.5 520.9 1463.4 515.9 1468.3 516.1 1473.2 520.7 1478.2 527.4 1483.1 537.4 1486.8 542.4 1486.8 547.4 1485.5 567.4 1474.2 587.3 1469.3 588.6 1468.3 589.6 1463.4 587.3 1460.5 582.3 1458.7 567.4 1459 547.4 1455.9 537.4 1456.6 530.6 1458.5ZM1410.5 1118.8 1415.5 1117.7 1415.5 1719.6 1407.1 1724.1 1401.3 1729 1394.9 1738.9 1393.6 1743.8 1393.5 1753.6 1398.3 1773.3 937.4 1773.3 941.7 1763.5 951.5 1750.4 986.4 1718.2 1003.6 1704.4 1008.4 1699.5 1019.5 1684.8 1026.4 1678 1040.4 1670 1075.4 1655.2 1112.2 1645.4 1126.7 1640.5 1136 1635.6 1142.1 1630.6 1146 1625.7 1148.1 1620.8 1148.5 1615.9 1145.3 1606 1126.4 1576.5 1111.2 1542.1 1106.2 1535.9 1086.2 1517.5 1079.5 1507.7 1071.3 1488 1070.1 1478.2 1072.6 1468.3 1091.4 1438.8 1099.7 1419.1 1104.1 1399.4 1112.5 1340.4 1121.7 1296.1 1134.4 1247 1138.4 1237.1 1144.3 1227.3 1156.1 1214.3 1171 1202.7 1191 1190.8 1211 1181.6 1249.6 1168.2 1275.8 1155.9 1315.7 1140.7 1330.7 1137.2 1355.6 1133.4 1410.5 1118.8ZM542.4 1147.9 557.4 1145.8 567.4 1145.6 585.7 1148.6 614.4 1158.4 620.7 1163.3 620.9 1168.2 617.7 1173.2 611.2 1178.1 601 1183 592.3 1185.6 577.4 1187.4 567.4 1186.8 557.4 1184.8 542.4 1179.3 530.7 1173.2 523.6 1168.2 519 1163.3 518.3 1158.4 523.8 1153.5 542.4 1147.9ZM806.8 1581.3 811.8 1579.1 816.8 1578.7 821.8 1580.4 823.1 1581.5 825.3 1586.4 823.8 1591.3 821.8 1593.6 816.8 1596.3 811.8 1595.7 806 1591.3 804.1 1586.4 806.8 1581.3Z"/>
<path fill="#0068ff" fill-rule="evenodd" d="M123.4 1123.6 158.3 1120.3 183.2 1120.2 203.2 1121.2 307.9 1129.8 327.9 1133.2 342.9 1138.8 349.2 1143.7 352.9 1148.6 354.7 1153.5 354.4 1163.3 348.6 1178.1 348 1183 350.6 1187.9 367.8 1207 402.7 1248.5 417.7 1273.5 437 1301.1 448.4 1320.7 455.8 1330.6 462.6 1337.6 472.6 1344.7 485.6 1350.3 503.5 1355.2 537.4 1361.4 547.4 1364.6 558.7 1369.9 573.4 1379.8 584.8 1389.6 597.1 1404.4 607.3 1420.8 612.3 1423.4 627.2 1417.9 637.2 1415.4 647.2 1414.4 657.2 1414.8 677.1 1418 703.7 1424 717 1428.3 728.9 1433.9 742 1443 766.9 1464.5 775.6 1473.2 778.8 1478.2 781.9 1488 783.3 1502.7 781.8 1512.6 777.1 1522.4 766.9 1533.7 757 1540.9 737 1548.5 712.1 1563.2 692.1 1569.5 652.2 1575.3 632.2 1580.6 622.3 1584.9 611 1591.3 583.4 1611 573.6 1620.8 570.5 1625.7 566.8 1635.6 563.9 1655.2 564.7 1674.9 563.8 1679.8 559.6 1689.7 549.1 1704.4 534.9 1719.2 522.5 1727.7 507.5 1733.6 487.6 1737.4 462.6 1740 442.7 1740 417.7 1737.6 362.8 1728.5 337.9 1720.3 307.9 1714.4 293 1713.3 268 1714.5 258.1 1713.2 248.1 1709.6 223.1 1698.3 208.2 1695 193.2 1693.7 173.2 1693.2 153.3 1694.1 93.4 1702.8 58.5 1706.2 58.5 1141.2 88.4 1130.8 123.4 1123.6ZM599.3 1433.9 572.4 1445.5 537.4 1449.5 507.5 1459.4 487.6 1463 480.9 1468.3 480.5 1473.2 484.3 1478.2 487.6 1480 492.5 1481.4 507.5 1481.7 512.5 1483 532.5 1494.1 537.4 1495.5 542.4 1495.7 547.4 1494.6 567.4 1485.4 592.3 1482.5 601.9 1478.2 606.9 1473.2 609.6 1468.3 612 1458.5 611.7 1443.7 608.6 1433.9 607.3 1431.5 602.3 1432.1 599.3 1433.9ZM1410.5 1143 1415.5 1141.2 1415.5 1706.2 1402.5 1709.4 1390.3 1714.3 1375.6 1722.7 1369.1 1729 1366.6 1733.9 1365.2 1743.8 1366.5 1753.6 1371.1 1773.3 1066.7 1773.3 1036.3 1770.1 1015.1 1763.5 1006.4 1758.8 1002 1753.6 1000.6 1748.7 1000.8 1743.8 1005 1733.9 1009.2 1729 1022.7 1719.2 1046.3 1694.6 1056.3 1686.5 1071.3 1676.9 1081.2 1672.3 1091.2 1669.4 1131.1 1661.4 1159.7 1650.3 1176 1641.8 1184.6 1635.6 1191 1628.9 1195.9 1620.8 1197.2 1615.9 1197.2 1611 1195.4 1606 1191 1601.3 1161.1 1589.3 1156.1 1585.7 1152.3 1581.5 1149.5 1576.5 1146.6 1566.7 1145.4 1537.2 1143.8 1527.3 1142 1522.4 1136.1 1514 1113.5 1492.9 1106.8 1483.1 1104 1473.2 1105.4 1463.4 1114.2 1438.8 1119.2 1419.1 1128.3 1350.3 1137.4 1306 1142.8 1286.3 1149.4 1266.6 1153.6 1256.8 1161.1 1243.8 1175.1 1227.3 1191 1214.4 1211 1202 1235.9 1190.5 1275.8 1175 1290.8 1170.3 1325.7 1161.5 1360.6 1157.9 1410.5 1143Z"/>
<path fill="#0094ff" fill-rule="evenodd" d="M143.3 1133.2 163.3 1131 183.2 1130.5 268 1135.9 307.9 1140.6 322.9 1143.9 334.2 1148.6 339.9 1153.5 342.5 1158.4 342.1 1163.3 338 1178.1 338.3 1183 339.9 1187.9 342.9 1192.8 362 1212.5 392.8 1247 404.3 1261.7 409.5 1271.5 414.3 1286.3 417.5 1315.8 419.8 1320.7 423.9 1325.7 449 1345.3 466.8 1355.2 481.6 1360.1 501.2 1365 532.5 1369.9 542.4 1372.6 556.1 1379.8 567.3 1389.6 574.8 1399.4 578.8 1409.3 579.1 1419.1 577.5 1424 574.5 1429 569.3 1433.9 562.4 1437 537.4 1442.8 512.5 1451.4 487.6 1455.9 477.6 1459.6 472.3 1463.4 469.5 1468.3 470 1473.2 473.3 1478.2 479 1483.1 487.6 1487.2 492.5 1488.3 507.5 1488.9 512.5 1490 517.7 1492.9 532.5 1504.2 537.4 1506 542.4 1506.1 547.4 1504.9 567.4 1494.5 572.4 1493.7 597.3 1494 607.3 1491.8 617.3 1486.2 623.6 1478.2 627.6 1468.3 632.2 1445.2 635.1 1438.8 637.2 1436.5 642.2 1433.6 647.2 1432.4 657.2 1432.5 667.2 1434.4 687.1 1440.4 707.1 1448.5 722 1458.1 742 1475 761.9 1485.8 766.9 1490.8 770.5 1497.8 771.5 1502.7 770.9 1507.7 768.7 1512.6 764.4 1517.5 757 1522.4 732 1532.5 712.1 1545.5 702.1 1550.8 687.1 1555.9 652.2 1562.6 627.2 1570.1 611.6 1576.5 562.4 1599.9 543.8 1611 529.9 1620.8 525.4 1625.7 522.9 1630.6 521.9 1635.6 522.5 1645.4 521.3 1650.3 509.6 1665.1 498.2 1684.8 491.1 1694.6 479.3 1704.4 470.8 1709.4 457.6 1714.8 447.6 1716.2 377.8 1718.3 362.8 1717.8 352.8 1716.1 307.9 1703.5 298 1702.8 273 1705.1 263 1704.3 253.1 1701.2 228.1 1687.9 218.1 1684.9 203.2 1683.2 178.2 1682.8 153.3 1683.8 103.4 1693 58.5 1695.5 58.5 1159 103.4 1141.9 123.4 1136.8 143.3 1133.2ZM1400.5 1162.4 1415.5 1159 1415.5 1695.5 1400.5 1697.5 1380.6 1702.7 1360.6 1709.1 1351.1 1714.3 1345.4 1719.2 1338.3 1729 1329.8 1753.6 1325.7 1761.5 1318.3 1768.4 1308.4 1773.3 1112.2 1773.3 1086.2 1755.5 1076.2 1750.4 1066.3 1747.6 1061.3 1747.1 1036.3 1748.8 1031.3 1747.7 1026.4 1744.8 1024.1 1738.9 1026.5 1733.9 1056.3 1720.1 1081.2 1699.5 1096.2 1690.1 1116.2 1682.5 1186 1662.3 1201.3 1655.2 1208.2 1650.3 1215.9 1642.5 1237.8 1611 1237.7 1606 1233.9 1601.1 1227.8 1596.2 1206 1581.5 1186 1569.9 1181.4 1566.7 1177 1561.8 1173 1551.9 1169.1 1527.3 1164.9 1512.6 1160.1 1502.7 1144.8 1478.2 1140.2 1463.4 1139 1448.6 1139.8 1404.4 1141.5 1374.9 1144.4 1350.3 1150.3 1320.7 1157 1296.1 1166.1 1272.2 1174.4 1256.8 1181.6 1247 1190.7 1237.1 1208.5 1222.4 1230.9 1208.6 1260.8 1195 1285.8 1185.5 1315.7 1177.3 1330.7 1174.3 1365.6 1169.8 1400.5 1162.4Z"/>
<path fill="#00c0ff" fill-rule="evenodd" d="M158.3 1143.1 173.2 1141.5 193.2 1141.5 233.1 1143.3 273 1146.7 298 1150.7 307.9 1153.7 317.6 1158.4 322.9 1163.9 324.7 1168.2 328 1183 332.8 1192.8 392.8 1257.6 397.8 1263.4 402.5 1271.5 403.7 1276.5 403.8 1286.3 400.7 1296.1 397.8 1301 392.8 1306.4 374.8 1320.7 372.6 1325.7 376.6 1330.6 389.4 1335.5 417.7 1344.4 447.6 1360 457.6 1364.2 507.5 1375.7 532.5 1378.6 542.4 1382 553.3 1389.6 560.8 1399.4 563.9 1409.3 563.8 1414.2 562.4 1419.1 557.4 1425.7 547.4 1431.5 512.5 1445.6 482.6 1451.2 474.9 1453.6 466 1458.5 461.5 1463.4 459.8 1468.3 460.5 1473.2 464.2 1478.2 477.6 1489.1 487.6 1493.6 507.5 1496.1 512 1497.8 527.5 1513.7 532.5 1517.3 537.4 1518.6 542.4 1518.6 552.4 1516 567.4 1508.7 572.4 1507.2 607.3 1508.5 622.3 1505.1 632.2 1498.3 636.8 1492.9 652.2 1467 655.8 1463.4 662.2 1460.5 672.1 1460.4 682.1 1462.6 695.6 1468.3 703.2 1473.2 712.1 1482 718.8 1492.9 722.4 1502.7 723 1507.7 722.2 1512.6 720.2 1517.5 712.3 1527.3 707.1 1531.9 698.7 1537.2 692.1 1540.1 682.1 1542.9 652.2 1547.8 642.2 1550.5 607.3 1563.6 577.4 1577 547.4 1588.7 532.5 1593.8 507.5 1600.2 494.7 1606 470.1 1620.8 457.6 1631.8 447.4 1645.4 436.5 1670 432.7 1676.2 427.7 1681.6 417.7 1688.6 406.2 1694.6 395.3 1699.5 377.8 1705.7 362.8 1708.4 347.9 1707.3 337.9 1704 312.9 1691.3 303 1689.4 293 1690.7 280.2 1694.6 273 1695.8 263 1694.8 252.7 1689.7 238.1 1678.1 233.1 1675.2 223.1 1672.4 198.2 1671.9 153.3 1672.9 143.3 1674.5 118.4 1682.1 103.4 1685.1 88.4 1685.8 58.5 1685 58.5 1172.1 78.5 1166.4 113.4 1153.5 158.3 1143.1ZM1410.5 1173.1 1415.5 1172.1 1415.5 1685 1390.6 1687.2 1358.8 1694.6 1340.7 1700.1 1320.3 1709.4 1312.3 1714.3 1307.2 1719.2 1301.4 1738.9 1298.2 1743.8 1290.8 1749.8 1280.8 1753.6 1270.8 1755.3 1240.9 1757.1 1225.9 1759.1 1196 1764.1 1171 1770.2 1161.1 1771.4 1146.1 1770.1 1131.1 1764.7 1121.2 1758.7 1115 1753.6 1110.3 1748.7 1103.8 1738.9 1101.3 1729 1101.6 1724.1 1105.6 1714.3 1109.5 1709.4 1115 1704.4 1122.4 1699.5 1132.5 1694.6 1146.1 1689.6 1171 1683.7 1211 1678.1 1220.9 1675.7 1230.9 1671.7 1240.9 1664.8 1260.8 1640.8 1289.9 1615.9 1293.5 1611 1292.5 1606.1 1286 1601.1 1268.7 1591.3 1235.9 1575.6 1225.9 1569.6 1216.1 1561.8 1207.3 1551.9 1204.2 1547 1200.1 1537.2 1193.4 1507.7 1190.2 1497.8 1173.1 1463.4 1167.3 1448.6 1161.7 1429 1158.3 1409.3 1157 1389.6 1157.6 1369.9 1160.8 1345.3 1166.1 1321.6 1172.2 1301.1 1181 1279 1187.8 1266.6 1194.8 1256.8 1211 1239.9 1220.9 1231.7 1234.8 1222.4 1263 1207.6 1290.8 1196.2 1320.7 1187.6 1340.7 1183.7 1410.5 1173.1Z"/>
<path fill="#02e8f4" fill-rule="evenodd" d="M153.3 1158.3 168.3 1154.5 178.2 1153.6 233.1 1154.6 283 1160.6 293 1163.9 303 1169.7 307.9 1174.4 324.9 1197.8 346 1217.4 367.8 1244.1 389.1 1266.6 392.6 1271.5 393.5 1276.5 392.6 1281.4 387.8 1288.9 382.8 1293.3 364.4 1306 357.8 1313.7 355.1 1320.7 354.6 1325.7 355.4 1330.6 357.9 1335.5 362.8 1340 367.8 1342.7 412.7 1356.3 447.6 1373.6 457.6 1376.3 482.6 1378.9 511.2 1384.7 532.5 1387.1 537.4 1389 542.4 1392.4 548.4 1399.4 550.3 1404.4 550.8 1409.3 549.9 1414.2 547.1 1419.1 542.4 1423.7 534.6 1429 512.5 1439.9 472.6 1447.9 462.6 1452.4 457.6 1456.3 453.1 1463.4 452.5 1468.3 453.6 1473.2 456.7 1478.2 467.6 1488.1 477.6 1495.6 487.6 1500.6 502.5 1504.9 507.5 1507.4 522.5 1522.7 532.5 1529.5 537.4 1531.5 547.4 1533 572.4 1528.9 577.4 1528.9 589.5 1532.3 594.6 1537.2 594.5 1542.1 591.1 1547 579.3 1556.9 570.3 1561.8 527.5 1579.2 482.6 1594 465.7 1601.1 452.6 1608.3 436.6 1620.8 412.7 1642.1 394.5 1655.2 387.8 1664.3 381 1679.8 377.9 1684.8 373.6 1689.7 367.3 1694.6 357.8 1698.7 352.8 1699.7 347.9 1699.4 340 1694.6 332.7 1684.8 330.8 1679.8 328 1665.1 323.5 1660.2 314.2 1655.2 302.1 1650.3 283 1645.4 278 1645.3 273 1646.5 267 1650.3 263.5 1655.2 263 1658.6 258.1 1660 248.1 1657.3 233.1 1656 213.2 1659.1 203.2 1659.7 173.2 1660.5 153.3 1659.3 138.3 1662.4 118.4 1672.8 108.4 1676.2 93.4 1677 58.5 1673 58.5 1183.7 88.4 1177.6 153.3 1158.3ZM1385.6 1187.6 1415.5 1183.7 1415.5 1673 1395.5 1672.3 1355.6 1679.9 1335.7 1681.2 1305.7 1684.8 1295.8 1683.9 1288.3 1679.8 1285.2 1674.9 1284.3 1670 1286.4 1660.2 1290.8 1653.7 1295.8 1649.2 1302.2 1645.4 1330.7 1634.8 1355.6 1623.9 1360.8 1620.8 1365.1 1615.9 1366.1 1611 1364.3 1606 1360.6 1602.4 1355.6 1599.4 1315.7 1584.3 1250.9 1562.6 1240.9 1557 1235.8 1551.9 1232.5 1547 1228.9 1537.2 1226.8 1507.7 1223.9 1497.8 1196 1454.2 1184.1 1429 1178.5 1414.2 1174.8 1399.4 1173.1 1384.7 1173.4 1369.9 1175.9 1350.3 1180.1 1330.6 1184.4 1315.8 1191.6 1296.1 1198.5 1281.4 1211.4 1261.7 1220.3 1251.9 1231.3 1242 1245.1 1232.2 1261.9 1222.4 1281.5 1212.5 1300.8 1204.5 1320.7 1198.6 1340.7 1193.9 1385.6 1187.6ZM672.1 1495 677.1 1493.6 687.1 1494.4 692.1 1496.8 697.1 1501.8 699.5 1507.7 699.6 1512.6 697.7 1517.5 692.7 1522.4 687.1 1524.8 682.1 1525.7 672.1 1525.2 663.7 1522.4 659.1 1517.5 658.5 1512.6 662.2 1503.7 667.2 1498 672.1 1495ZM263 1660.7 273.5 1670 275.8 1674.9 275 1679.8 273 1681.7 268 1683.2 263 1679.7 261 1674.9 260.2 1670 260.6 1665.1 263 1660.7ZM1156.1 1704 1176 1701.4 1186 1701.8 1197 1704.4 1205.4 1709.4 1209.4 1714.3 1210.9 1719.2 1210.7 1724.1 1208.9 1729 1205.3 1733.9 1201 1737.8 1192.2 1743.8 1171 1753 1156.1 1755.5 1146.1 1754.1 1141.1 1752.1 1135.6 1748.7 1131.1 1744.3 1127.9 1738.9 1126.5 1733.9 1126.5 1729 1127.8 1724.1 1130.7 1719.2 1136.1 1713.6 1146.1 1707.5 1156.1 1704Z"/>
<path fill="#26ffd1" fill-rule="evenodd" d="M178.2 1172.7 213.2 1169.2 233.1 1168.8 268 1173.7 278 1176.7 288 1181.4 298 1188.5 337.9 1221.7 353.3 1242 369.5 1266.6 371 1271.5 370.7 1276.5 367.9 1281.4 349.5 1301.1 346.6 1306 343.8 1315.8 344.3 1325.7 347.3 1335.5 350.4 1340.4 355.3 1345.3 362.8 1350.4 372.8 1354.8 407.7 1366.1 432.7 1380.8 442.7 1385.4 452.6 1387.6 477.6 1387 492.5 1388.5 527.5 1395 535.3 1399.4 537.8 1404.4 538 1409.3 536.2 1414.2 532.6 1419.1 520.3 1429 511.5 1433.9 502.5 1436.9 472.6 1441.4 462.6 1444.5 454.9 1448.6 449.4 1453.6 446.7 1458.5 445.6 1463.4 445.9 1468.3 447.5 1473.2 450.3 1478.2 454.8 1483.1 477.6 1502.9 501.5 1517.5 525.3 1542.1 528.3 1547 529.4 1551.9 528.2 1556.9 524.5 1561.8 517.7 1566.7 512.5 1569.2 477.6 1580.8 462.6 1587 447.6 1594.8 417.7 1612.6 397.8 1622.2 382.8 1628.4 367.8 1632.7 352.8 1634.2 327.9 1633.2 307.9 1631.3 273 1625.8 268 1625.8 258.1 1628.8 238.1 1637.8 223.1 1642.4 208.2 1645.4 193.2 1646.3 178.2 1645.2 168.3 1642.8 158.3 1638.8 143.3 1631.1 138.3 1630.5 133.3 1634.6 124.1 1650.3 113.4 1663.5 108.4 1666.5 103.4 1667.1 89.1 1665.1 74.6 1660.2 64 1655.2 58.5 1650.7 58.5 1195 108.4 1189.3 133.3 1185.4 148.3 1182.2 178.2 1172.7ZM1390.6 1197.5 1415.5 1195 1415.5 1617.8 1413.5 1611 1410.5 1607.7 1399.6 1601.1 1360.6 1581.6 1294.4 1556.9 1285.7 1551.9 1272.9 1542.1 1269.2 1537.2 1267.2 1532.3 1265.7 1507.7 1262.7 1497.8 1256 1488 1230.9 1466.6 1223 1458.5 1215.6 1448.6 1207.1 1433.9 1198.2 1414.2 1193.2 1399.4 1190.2 1384.7 1190.3 1369.9 1192.2 1355.2 1196.6 1335.5 1203.1 1315.8 1211 1296.1 1218.3 1281.4 1228.2 1266.6 1237.4 1256.8 1249.3 1247 1264 1237.1 1290.1 1222.4 1305.7 1215.2 1329 1207.6 1350.6 1202 1390.6 1197.5ZM1415.5 1622.3 1415.5 1650.7 1412.3 1645.4 1411.8 1640.5 1415.5 1622.3Z"/>
<path fill="#49ffad" fill-rule="evenodd" d="M213.2 1192.3 223.1 1190 238.1 1189.1 253.1 1190.8 263 1193.3 273 1197.1 307.9 1213.5 321.6 1222.4 332 1232.2 338.8 1242 343.9 1251.9 347 1261.7 347.4 1266.6 345 1276.5 330.2 1301.1 327.7 1310.9 327.8 1315.8 330.4 1325.7 335.3 1335.5 342.7 1345.3 352.8 1353.9 367.8 1362.1 402.7 1375.3 409.7 1379.8 427.7 1395.6 437.7 1400.8 447.6 1401.6 472.6 1396.8 487.6 1396 504.8 1399.4 517.5 1405.1 520.7 1409.3 520.3 1414.2 517.6 1419.1 512.9 1424 507.5 1427.7 502.5 1430.2 492.5 1432.9 462.6 1435.6 447.6 1441.3 442.7 1445.2 440.2 1448.6 437.7 1458.5 439 1468.3 443.8 1478.2 487.8 1522.4 500 1537.2 503 1542.1 504.6 1547 502.5 1552.4 496.4 1556.9 462.6 1572.2 417.7 1597.3 402.7 1603.3 377.8 1611.3 357.8 1615.2 332.9 1617.2 303 1617.7 273 1615.6 263 1616 253.1 1618.3 228.1 1627.2 208.2 1631 193.2 1631 178.2 1627.8 168.3 1623.3 148.3 1610.4 138.3 1607.5 128.3 1608.6 108.4 1617.3 103.4 1618.8 98.4 1618.8 93.4 1616.8 88.4 1613.2 74.9 1601.1 68.5 1596.6 58.5 1591.1 58.5 1206.7 88.4 1205.5 133.3 1206.8 148.3 1208.3 168.3 1212 173.2 1211.7 183.2 1207.6 203.2 1196.2 213.2 1192.3ZM1405.5 1207.5 1415.5 1206.7 1415.5 1591.1 1385.6 1578.1 1351.2 1561.8 1327 1547 1315.7 1537.2 1310.2 1527.3 1304.1 1502.7 1298.8 1492.9 1294.1 1488 1281.7 1478.2 1244.1 1453.6 1235.9 1445.9 1230.4 1438.8 1222.5 1424 1215 1404.4 1211.3 1389.6 1209.9 1374.9 1211 1360.1 1214.1 1345.3 1230.5 1301.1 1237.2 1286.3 1243.2 1276.5 1246.9 1271.5 1255.9 1263.1 1278.2 1247 1300.8 1233.4 1313 1227.3 1337.6 1217.4 1352.5 1212.5 1360.6 1210.9 1405.5 1207.5Z"/>
<path fill="#6aff8d" fill-rule="evenodd" d="M223.1 1217.3 238.1 1214.7 253.1 1215.1 293 1223.5 303 1226.8 307.9 1229.5 317.1 1237.1 320.7 1242 323.2 1247 325.4 1256.8 323.8 1266.6 318 1276.5 304.9 1291.2 301.6 1296.1 295.8 1310.9 294.7 1315.8 294.8 1320.7 299.2 1325.7 317.9 1337.3 347.1 1360.1 367.8 1372 392.8 1383.2 400.8 1389.6 409.8 1404.4 421.4 1433.9 429.3 1463.4 433.6 1473.2 440.5 1483.1 456.3 1497.8 466.3 1512.6 473.8 1527.3 475.2 1537.2 473.9 1542.1 470.8 1547 447.4 1566.7 427.7 1579.7 417.7 1585 402.7 1590.9 372.8 1598.5 347.9 1601.8 293 1606.7 268 1605.6 258.1 1606.3 248.1 1608.4 228.1 1614.4 208.2 1616.6 193.2 1615.3 183.2 1613 173.2 1609.3 153.3 1598.3 143.3 1595.2 133.3 1594.3 108.4 1596 98.4 1594.6 83.4 1589.2 58.5 1578.5 58.5 1220 83.4 1219.2 103.4 1220.1 133.3 1222.9 163.3 1228.8 173.2 1229.7 192.1 1227.3 223.1 1217.3ZM1390.6 1222.3 1415.5 1220 1415.5 1578.5 1379.9 1561.8 1362.9 1551.9 1356.3 1547 1343.5 1532.3 1338.2 1522.4 1327.9 1497.8 1321.9 1488 1315.7 1480.5 1300.8 1467.6 1262.3 1443.7 1250.5 1433.9 1244.2 1424 1238.5 1409.3 1234.9 1394.5 1232.2 1374.9 1233 1355.2 1237.1 1340.4 1255.9 1299.8 1261.1 1291.2 1270.8 1279.8 1285.8 1266.9 1299.9 1256.8 1324.1 1242 1342.9 1232.2 1360.6 1225.3 1390.6 1222.3ZM477.6 1408 487.6 1406.1 497.5 1408.5 502.7 1414.2 501.6 1419.1 496 1424 492.5 1425.3 487.6 1425.9 476.3 1424 469.1 1419.1 469.3 1414.2 474.6 1409.3 477.6 1408Z"/>
<path fill="#8dff6a" fill-rule="evenodd" d="M68.5 1236.7 93.4 1233.6 113.4 1233.7 128.3 1235.7 168.3 1244.1 208.2 1246.3 238.1 1245.5 258.1 1243.5 283 1239.8 288 1239.9 294.6 1242 299.2 1247 299.8 1251.9 298 1255.9 293 1259.5 278 1263.9 274.1 1266.6 270.3 1271.5 256 1310.9 255.4 1315.8 256.4 1320.7 259.5 1325.7 264.7 1330.6 271.8 1335.5 282.2 1340.4 303 1346.6 317.9 1353 354 1374.9 375.1 1389.6 382.8 1396.6 388.2 1404.4 400.7 1433.9 412.7 1451.9 425.2 1473.2 432.7 1483.5 451.2 1502.7 456.2 1512.6 459 1522.4 458.6 1532.3 456.8 1537.2 450.1 1547 437.7 1559.8 422.7 1570.7 407.7 1578.1 392.8 1582.8 372.8 1586.4 332.9 1589.8 293 1594.6 253.1 1595.4 223.1 1601.2 208.2 1600.7 193.2 1598.3 183.2 1595.5 158.3 1585.6 148.3 1583.1 133.3 1581.6 108.4 1581.2 98.4 1579.9 78.5 1574.5 58.5 1567.1 58.5 1238.2 68.5 1236.7ZM1395.5 1241.7 1415.5 1238.2 1415.5 1567.1 1395 1556.9 1374.5 1542.1 1369.7 1537.2 1362.6 1527.3 1347.2 1492.9 1336.8 1478.2 1321.5 1463.4 1280.8 1433.9 1270.7 1424 1264.5 1414.2 1261 1404.4 1254.3 1360.1 1254.5 1350.3 1257 1340.4 1260.8 1333.3 1265.8 1327 1275.8 1317.5 1322.9 1281.4 1360.6 1254.3 1375.1 1247 1395.5 1241.7Z"/>
<path fill="#b1ff46" fill-rule="evenodd" d="M98.4 1249.9 108.4 1247.4 118.4 1248.1 148.3 1258 178.2 1263 213.2 1274.5 233.1 1278.8 236.5 1281.4 237.6 1286.3 235.8 1291.2 227.8 1306 222.6 1320.7 222.4 1325.7 224.8 1330.6 231.7 1335.5 238.1 1338 307.9 1361.3 335.2 1374.9 343.4 1379.8 349.1 1384.7 361.4 1399.4 375.6 1424 386 1438.8 407.7 1463.1 423.1 1483.1 440.2 1502.7 443.3 1507.7 446.4 1517.5 446 1527.3 442.1 1537.2 435 1547 424.8 1556.9 412.7 1564.9 402.7 1569.5 387.8 1573.5 372.8 1575.3 337.9 1576.4 288 1581.9 228.1 1583.4 203.2 1581.6 168.3 1572.9 153.3 1570.3 98.4 1567.6 78.5 1563 58.5 1555.6 58.5 1288.6 71.4 1296.1 78.5 1298.7 88.4 1299.6 93.4 1298.4 97.2 1296.1 99.4 1291.2 98.5 1286.3 88.9 1271.5 86.6 1266.6 86.5 1261.7 88.9 1256.8 94.3 1251.9 98.4 1249.9ZM1400.5 1286.1 1405.5 1285.9 1415.5 1288.6 1415.5 1555.6 1400.5 1546.5 1385.3 1532.3 1375.7 1517.5 1363.3 1488 1353.6 1473.2 1339.2 1458.5 1305.5 1433.9 1293.9 1424 1286.8 1414.2 1284.7 1409.3 1282.9 1399.4 1283.4 1389.6 1288.2 1365 1292.1 1355.2 1296.1 1350.3 1309 1340.4 1325.7 1329.4 1349 1315.8 1380.6 1293.7 1390.6 1288.8 1400.5 1286.1Z"/>
<path fill="#d1ff26" fill-rule="evenodd" d="M62.5 1315.8 98.4 1320.9 133.3 1321.1 143.3 1323.4 168.3 1333.4 198.2 1336.3 228.1 1348.5 293 1367.8 316.8 1379.8 330.7 1389.6 334.9 1394.5 337.9 1399.9 344.4 1419.1 347.1 1424 351.3 1429 377.8 1449.1 397.8 1466.5 412.7 1483 428 1502.7 432.9 1512.6 433.8 1517.5 432.6 1527.3 427.9 1537.2 419.7 1547 412.7 1552.9 402.7 1558.7 392.8 1562.1 372.8 1564.5 337.9 1564 303 1568.1 278 1569.2 253.1 1568.7 208.2 1564.9 163.3 1557.4 113.4 1557.1 98.4 1556 78.5 1551.1 67.8 1547 58.7 1542.1 58.5 1315.4 62.5 1315.8ZM1405.5 1315.3 1415.5 1315.4 1415.5 1541.9 1404 1532.3 1395.5 1522.1 1387.5 1507.7 1374.8 1478.2 1368.9 1468.3 1361.3 1458.5 1350.6 1448.3 1320.7 1429.3 1310.7 1421.6 1304.2 1414.2 1300.4 1404.4 1301.3 1394.5 1310.7 1375.4 1318 1365 1325.7 1357.5 1340.7 1347.1 1380.6 1323.4 1395.5 1317.1 1405.5 1315.3Z"/>
<path fill="#f4f802" fill-rule="evenodd" d="M63.5 1331.9 118.4 1337.3 163.3 1347.5 198.2 1352.6 243.1 1364.4 278 1374.9 289.7 1379.8 301.9 1389.6 308.8 1399.4 310.8 1404.4 315.5 1424 317.7 1429 321.5 1433.9 327.7 1438.8 336.6 1443.7 357.8 1452 372.8 1460 390.5 1473.2 405.1 1488 415.3 1502.7 419.3 1512.6 419.5 1522.4 415.8 1532.3 407.8 1542.1 402.7 1546.1 397.8 1549 387.8 1552.2 367.8 1553.7 342.9 1552 307.9 1556.2 273 1557.2 253.1 1556.1 228.1 1551.8 198.2 1549.8 168.3 1545 108.4 1545.6 91.2 1542.1 73.5 1534.6 63.5 1527.7 58.5 1523 58.5 1331.8 63.5 1331.9ZM1400.5 1334 1415.5 1331.8 1415.5 1523 1410.5 1517.3 1404.2 1507.7 1389.6 1473.2 1384.3 1463.4 1377.2 1453.6 1360.6 1436.7 1350.6 1430 1330.7 1418.8 1320.7 1411.7 1315.7 1405.5 1314.3 1399.4 1315.6 1394.5 1320.7 1387.3 1330.7 1377.4 1340.1 1369.9 1375.6 1345.4 1390.6 1337.5 1400.5 1334Z"/>
<path fill="#ffd000" fill-rule="evenodd" d="M63.5 1347 78.5 1347.9 103.4 1351.1 148.3 1359.1 183.2 1363.4 218.1 1369.2 239.2 1374.9 262.1 1384.7 273 1390.9 277.4 1394.5 281 1399.4 290.7 1429 297.7 1438.8 303 1443.6 317.9 1451.4 347.9 1461.3 362.8 1467.5 377.8 1476.8 390.9 1488 398.9 1497.8 403.2 1507.7 404.2 1517.5 403.2 1522.4 400.9 1527.3 397 1532.3 390.3 1537.2 377.8 1541.2 367.8 1542.3 342.9 1542.1 307.9 1545.6 273 1546.5 258.1 1545.5 233.1 1541.2 203.2 1538.7 163.3 1532.8 143.3 1531.9 113.2 1532.3 103.4 1530.5 88.4 1524.3 78.2 1517.5 68.5 1507.9 63.5 1501 58.5 1491.3 58.5 1347.3 63.5 1347ZM1400.5 1350.2 1415.5 1347.3 1415.5 1491.3 1407.7 1468.3 1399.3 1453.6 1390.5 1443.7 1358.2 1414.2 1350.4 1404.4 1348.8 1399.4 1349.6 1394.5 1352.1 1389.6 1368.6 1369.9 1385.6 1357 1400.5 1350.2Z"/>
<path fill="#ffab00" fill-rule="evenodd" d="M63.5 1363.1 83.6 1365 138.3 1375.9 173.2 1376.5 193.2 1379.8 218.1 1382 228.1 1384.2 233.1 1386.5 244.9 1394.5 249.3 1399.4 252.2 1404.4 254.8 1414.2 255.6 1433.9 257.3 1438.8 260.7 1443.7 268 1448.8 307.9 1463.1 346.1 1473.2 362.8 1481.3 371.9 1488 380.8 1497.8 384.9 1507.7 385 1512.6 383.5 1517.5 377.8 1524 372 1527.3 362.8 1529.9 312.9 1534.6 273 1536.6 258.1 1535 233.1 1530.5 198.2 1527 158.3 1519 123.4 1514 108.4 1509.5 98.4 1502.9 93.4 1497.7 87.7 1488 82.8 1473.2 76.1 1458.5 65.8 1443.7 58.5 1437.1 58.5 1363.3 63.5 1363.1ZM1410.5 1364 1415.5 1363.3 1415.5 1437.1 1395.5 1425 1385.6 1417 1379.1 1409.3 1376.8 1404.4 1375.6 1399.4 1377.1 1389.6 1379.4 1384.7 1385.6 1377 1395.5 1369.5 1410.5 1364Z"/>
<path fill="#ff8200" fill-rule="evenodd" d="M61.2 1389.6 65.4 1394.5 66.5 1399.4 63.5 1402.4 58.5 1403 58.5 1388.6 61.2 1389.6ZM1410.5 1389.1 1415.5 1388.6 1415.5 1403 1410.5 1402.2 1404.9 1399.4 1404.3 1394.5 1410.5 1389.1ZM78.5 1396.5 83.4 1396.4 89.9 1399.4 92.5 1404.4 90.3 1409.3 83.4 1411.9 78.5 1411.3 73.5 1409.2 69 1404.4 78.5 1396.5ZM203.2 1402.1 213.2 1399.5 218.1 1400.2 225 1404.4 228.1 1409.3 229.1 1414.2 228.8 1419.1 223.9 1438.8 224.7 1443.7 227.5 1448.6 233.1 1453.3 253.1 1462 303 1478.3 312.9 1480.8 332.9 1483.9 345.6 1488 352.7 1492.9 356.8 1497.8 358.8 1502.7 358.7 1507.7 355.6 1512.6 346.3 1517.5 332.9 1520.3 303 1522.9 283 1526.2 273 1526.4 238.1 1519.4 212.3 1517.5 193.2 1514.1 174.2 1507.7 163.1 1502.7 147 1492.9 142.4 1488 140 1483.1 139.9 1478.2 142 1473.2 146.4 1468.3 159.8 1458.5 168.8 1453.6 173 1448.6 174 1443.7 172.9 1429 174.8 1419.1 179 1414.2 192.1 1409.3 203.2 1402.1Z"/>
<path fill="#ff5900" fill-rule="evenodd" d="M188.2 1476.5 193.2 1473.9 198.2 1473.6 218.1 1478.1 233.1 1478.9 243.1 1480.5 273 1487.5 283 1492.7 287.2 1497.8 288.5 1502.7 287.7 1507.7 283 1512.7 278 1513.8 273 1513.5 248.1 1504.6 243.1 1503.8 218.1 1503.7 203.2 1501.3 195.1 1497.8 189.1 1492.9 185.9 1488 184.9 1483.1 186.6 1478.2 188.2 1476.5Z"/>
<use href="#coast" transform="translate(0 985)"/>
</g>
<rect x="58.5" y="1104.3" width="1357.0" height="669.0" fill="none" stroke="#000" stroke-width="3.33"/>
<rect x="58.50" y="1816.8" width="57.14" height="67.10000000000002" fill="#000096"/>
<rect x="115.04" y="1816.8" width="57.14" height="67.10000000000002" fill="#0000c8"/>
<rect x="171.58" y="1816.8" width="57.14" height="67.10000000000002" fill="#0000f6"/>
<rect x="228.12" y="1816.8" width="57.14" height="67.10000000000002" fill="#0014ff"/>
<rect x="284.67" y="1816.8" width="57.14" height="67.10000000000002" fill="#0040ff"/>
<rect x="341.21" y="1816.8" width="57.14" height="67.10000000000002" fill="#0068ff"/>
<rect x="397.75" y="1816.8" width="57.14" height="67.10000000000002" fill="#0094ff"/>
<rect x="454.29" y="1816.8" width="57.14" height="67.10000000000002" fill="#00c0ff"/>
<rect x="510.83" y="1816.8" width="57.14" height="67.10000000000002" fill="#02e8f4"/>
<rect x="567.38" y="1816.8" width="57.14" height="67.10000000000002" fill="#26ffd1"/>
<rect x="623.92" y="1816.8" width="57.14" height="67.10000000000002" fill="#49ffad"/>
<rect x="680.46" y="1816.8" width="57.14" height="67.10000000000002" fill="#6aff8d"/>
<rect x="737.00" y="1816.8" width="57.14" height="67.10000000000002" fill="#8dff6a"/>
<rect x="793.54" y="1816.8" width="57.14" height="67.10000000000002" fill="#b1ff46"/>
<rect x="850.08" y="1816.8" width="57.14" height="67.10000000000002" fill="#d1ff26"/>
<rect x="906.62" y="1816.8" width="57.14" height="67.10000000000002" fill="#f4f802"/>
<rect x="963.17" y="1816.8" width="57.14" height="67.10000000000002" fill="#ffd000"/>
<rect x="1019.71" y="1816.8" width="57.14" height="67.10000000000002" fill="#ffab00"/>
<rect x="1076.25" y="1816.8" width="57.14" height="67.10000000000002" fill="#ff8200"/>
<rect x="1132.79" y="1816.8" width="57.14" height="67.10000000000002" fill="#ff5900"/>
<rect x="1189.33" y="1816.8" width="57.14" height="67.10000000000002" fill="#ff3400"/>
<rect x="1245.88" y="1816.8" width="57.14" height="67.10000000000002" fill="#f60b00"/>
<rect x="1302.42" y="1816.8" width="57.14" height="67.10000000000002" fill="#c40000"/>
<rect x="1358.96" y="1816.8" width="57.14" height="67.10000000000002" fill="#960000"/>
<rect x="58.5" y="1816.8" width="1357.0" height="67.10000000000002" fill="none" stroke="#000" stroke-width="3.33"/>
<line x1="58.50" y1="1883.9" x2="58.50" y2="1900.10" stroke="#000" stroke-width="3.33"/>
<text transform="translate(58.50 1945.5) scale(1.06 1)" font-size="44" text-anchor="middle">0</text>
<line x1="228.12" y1="1883.9" x2="228.12" y2="1900.10" stroke="#000" stroke-width="3.33"/>
<text transform="translate(228.12 1945.5) scale(1.06 1)" font-size="44" text-anchor="middle">15</text>
<line x1="397.75" y1="1883.9" x2="397.75" y2="1900.10" stroke="#000" stroke-width="3.33"/>
<text transform="translate(397.75 1945.5) scale(1.06 1)" font-size="44" text-anchor="middle">30</text>
<line x1="567.38" y1="1883.9" x2="567.38" y2="1900.10" stroke="#000" stroke-width="3.33"/>
<text transform="translate(567.38 1945.5) scale(1.06 1)" font-size="44" text-anchor="middle">45</text>
<line x1="737.00" y1="1883.9" x2="737.00" y2="1900.10" stroke="#000" stroke-width="3.33"/>
<text transform="translate(737.00 1945.5) scale(1.06 1)" font-size="44" text-anchor="middle">60</text>
<line x1="906.62" y1="1883.9" x2="906.62" y2="1900.10" stroke="#000" stroke-width="3.33"/>
<text transform="translate(906.62 1945.5) scale(1.06 1)" font-size="44" text-anchor="middle">75</text>
<line x1="1076.25" y1="1883.9" x2="1076.25" y2="1900.10" stroke="#000" stroke-width="3.33"/>
<text transform="translate(1076.25 1945.5) scale(1.06 1)" font-size="44" text-anchor="middle">90</text>
<line x1="1245.88" y1="1883.9" x2="1245.88" y2="1900.10" stroke="#000" stroke-width="3.33"/>
<text transform="translate(1245.88 1945.5) scale(1.06 1)" font-size="44" text-anchor="middle">105</text>
<line x1="1415.50" y1="1883.9" x2="1415.50" y2="1900.10" stroke="#000" stroke-width="3.33"/>
<text transform="translate(1415.50 1945.5) scale(1.06 1)" font-size="44" text-anchor="middle">120</text>
<text x="81.0" y="2064.3" font-size="51" textLength="1315.0" lengthAdjust="spacingAndGlyphs">Plasmasphere (h=1500.0 km), 2000-10-23 00:00 UT</text>
<g clip-path="url(#clip2)">
<rect x="58.5" y="2089.3" width="1357.0" height="669.0" fill="#0000a8"/>
<path fill="#0000fa" fill-rule="evenodd" d="M63.5 2089.3 1415.5 2089.3 1415.5 2723.5 1405.5 2733.7 1392.5 2743.5 1380.6 2750.3 1361.1 2758.3 401.1 2758.3 407.7 2752.8 430.9 2738.6 434.4 2733.7 434.3 2728.8 425.7 2699.3 422.7 2693.2 417.7 2687.9 412.9 2684.5 402.7 2680.2 392.8 2677.5 357.8 2671.2 248.1 2664.8 233.1 2665.9 198.2 2674.2 178.2 2676.6 158.3 2675.8 118.4 2670.2 108.4 2671 103.4 2672.4 93.4 2677.6 85.9 2684.5 58.5 2723.1 58.5 2089.3 63.5 2089.3ZM426.8 2168 415.3 2172.9 397.8 2185.2 392.8 2187.5 387.8 2187.9 367.8 2185.8 357.8 2186.9 347.9 2190.4 324.5 2202.4 316.9 2207.4 306.9 2217.2 304.9 2222.1 307 2227 312.9 2232 321.4 2236.9 332.9 2241.4 342.9 2243.3 352.8 2243.2 364.2 2241.8 402.7 2233.8 447.6 2232.8 467.6 2234.4 507.5 2242 532.5 2242.4 552.4 2239.9 577.4 2235.2 588.1 2232 593.6 2227 593.6 2222.1 590.5 2217.2 578.3 2207.4 552.1 2192.6 522.5 2179.9 482.6 2168.4 462.6 2164.5 452.6 2163.8 442.7 2164.4 426.8 2168ZM1323.6 2168 1310.4 2172.9 1300.9 2177.8 1294.9 2182.8 1293.1 2187.7 1294.5 2192.6 1298.7 2197.5 1306.6 2202.4 1322.2 2207.4 1330.7 2208.5 1340.7 2208.3 1350.6 2206.2 1374.4 2197.5 1382.3 2192.6 1381.4 2187.7 1375.8 2182.8 1360 2172.9 1350.6 2168.8 1340.7 2166.3 1335.7 2166 1323.6 2168ZM1145.6 2541.9 1131.1 2549.9 1115.1 2556.6 1112.8 2561.5 1120.9 2566.5 1151.1 2574.7 1166.1 2575.4 1183.5 2571.4 1194.8 2566.5 1198.1 2561.5 1194.9 2556.6 1189.5 2551.7 1176 2542.1 1171 2539.7 1161.1 2537.7 1156.1 2538.2 1145.6 2541.9ZM698.6 2635.3 687.1 2638.8 682.1 2639.1 667.2 2637.2 662.2 2637.9 657.1 2640.2 654.2 2645.2 656 2650.1 657.2 2651.1 662.2 2653.5 667.2 2654.3 682.1 2651.7 707.1 2650.1 717.2 2645.2 720.4 2640.2 720 2635.3 717 2633.2 712.1 2632.6 698.6 2635.3Z"/>
<path fill="#0034ff" fill-rule="evenodd" d="M63.5 2089.3 1415.5 2089.3 1415.5 2168.6 1400.5 2162.4 1380.6 2156.7 1340.7 2148.9 1325.7 2148.9 1300.8 2153.4 1275.8 2156.5 1260.8 2160.4 1254.8 2163.1 1247.6 2168 1243.1 2172.9 1240.2 2177.8 1238.8 2182.8 1238.8 2187.7 1240.1 2192.6 1242.9 2197.5 1252.5 2207.4 1259.7 2212.3 1269.6 2217.2 1280.8 2221.1 1295.8 2224.6 1325.7 2228.7 1345.7 2228.6 1385.6 2223.9 1415.5 2217.1 1415.5 2593.9 1410.5 2590 1405.5 2587.6 1400.5 2586.1 1390.6 2586 1371.1 2591.1 1365.6 2593.7 1362.1 2596 1361.5 2600.9 1364.6 2605.8 1385.6 2627.5 1390.3 2635.3 1393.7 2645.2 1394.8 2655 1393.6 2669.8 1390.2 2684.5 1386.5 2694.4 1381 2704.2 1372.2 2714 1360.6 2721.3 1350.6 2725 1335.7 2728.5 1280.8 2737.6 1260.8 2739.8 1230.9 2741.2 1146.1 2741.4 1041.3 2744.1 876.7 2751.6 821.8 2751.1 776.9 2746.9 761.9 2746.4 747 2747.6 722 2752.6 707.1 2753.3 697.1 2751.8 662.2 2743.1 622.3 2739 607.3 2735.8 591.6 2728.8 578.9 2718.9 574.5 2714 572.6 2709.1 573.9 2704.2 579.6 2699.3 588.1 2694.4 607.3 2686.2 617.3 2684 627.2 2683.7 652.2 2687.4 667.2 2687.7 732 2678.1 747 2672.3 801.9 2642.6 816.8 2636.9 831.8 2633.5 866.7 2629.8 886.7 2629.7 906.6 2631.9 921.6 2634.7 966.5 2646.2 991.4 2647.9 1011.4 2647.3 1021.4 2645.3 1031.3 2641.1 1061.3 2623.3 1081.2 2613.8 1101.2 2606.6 1121.2 2601 1136.1 2599.1 1161.1 2599.8 1191 2598.9 1215.9 2600.4 1235.9 2600.5 1245.9 2599.6 1260.7 2596 1272.1 2591.1 1277.8 2586.1 1277.2 2581.2 1273.6 2576.3 1263.1 2566.5 1240.9 2548.5 1220.9 2529.9 1211 2522 1196 2512.7 1191 2510.6 1181 2508.3 1171 2508.4 1156.1 2511.4 1106.2 2528.9 1091.2 2536.6 1066.3 2554.8 1056.3 2560.9 1046.3 2565.5 1031.3 2569.6 996.4 2572.7 936.6 2570.7 911.6 2571.8 871.7 2581.1 831.8 2588.6 791.9 2593.5 761.9 2604.7 747 2608.4 717 2610.8 682.1 2616 652.2 2618.7 617.3 2625.5 592.3 2628.7 552.4 2630.1 522.5 2627.6 497.5 2623.1 482.6 2619.2 447.6 2605.1 432.7 2602.8 412.7 2601.3 402.7 2601.7 397.8 2602.8 390.3 2605.8 363.4 2620.6 342.9 2626.4 322.9 2628.5 278 2629.7 248.1 2632.1 228.1 2635.1 193.2 2644 178.2 2646.1 163.3 2645.6 148.3 2642.4 93.4 2622.5 83.4 2617.4 74.2 2610.7 58.5 2593.9 58.5 2217.1 73.5 2213.2 78.5 2210.5 83.4 2204.8 85.4 2197.5 83.4 2188.8 78.5 2181.6 68.5 2173.9 58.5 2168.6 58.5 2089.3 63.5 2089.3ZM421.9 2133.6 377.8 2141.6 337.9 2146.7 312.9 2154.1 302.8 2158.2 293 2163.5 253.1 2195.1 240.9 2207.4 228.9 2222.1 224.8 2232 224.9 2236.9 226.7 2241.8 230.7 2246.7 239.1 2251.6 259.8 2256.6 288 2257.8 337.9 2263.3 432.7 2257.7 452.6 2257.3 512.5 2266.4 577.4 2269.8 607.3 2270.5 622.3 2269.9 637.2 2268.1 665.6 2261.5 677.9 2256.6 684.8 2251.6 688.8 2246.7 690.7 2241.8 690.3 2236.9 687.8 2232 683.5 2227 644.4 2192.6 632.2 2184.4 617.3 2177 592 2168 537.4 2151.2 512.5 2144.5 492.5 2137.4 477.6 2133.1 462.6 2130.8 452.6 2130.4 437.7 2131.3 421.9 2133.6Z"/>
<path fill="#0080ff" fill-rule="evenodd" d="M63.5 2089.3 1415.5 2089.3 1415.5 2143.7 1400.5 2139.2 1385.6 2135.9 1345.7 2130.6 1330.7 2129.5 1300.8 2131.6 1265.8 2130.1 1245.9 2130.8 1230.5 2133.6 1201 2141.9 1191 2143.5 1186 2143.2 1176 2140.8 1146.1 2130.8 1136.1 2129.3 1126.1 2129.5 1111.2 2132.8 1081.2 2142.7 1056.3 2145.2 1046.3 2147.4 1016.4 2158.1 1006.4 2159.8 976.5 2161.7 961.5 2164.7 953.1 2168 945.5 2172.9 940.7 2177.8 937.8 2182.8 936.4 2187.7 936.4 2192.6 937.9 2197.5 941 2202.4 945.9 2207.4 956.5 2213.4 971.5 2216.7 1016.4 2216.2 1036.3 2214.7 1056.3 2210.6 1076.2 2202.6 1086.2 2199.6 1096.2 2198.1 1111.2 2197.9 1126.1 2199.8 1136.1 2202.5 1151.1 2209 1181 2226 1196 2233.4 1215.9 2240.6 1235.9 2244.8 1260.8 2247 1300.8 2246.1 1335.7 2248.5 1375.6 2245 1415.5 2239.6 1415.5 2532.9 1405.5 2524.4 1400.5 2522.5 1395.5 2522.9 1390.6 2525.9 1374.9 2541.9 1365.6 2547.8 1355.6 2550.7 1340.7 2550.2 1330.7 2547.6 1320.7 2543.7 1297.3 2532 1273.9 2517.3 1263.2 2507.4 1255.9 2497.2 1248.8 2482.8 1247.5 2477.9 1247.4 2468.1 1249.9 2458.2 1265.8 2424 1270.7 2409 1274.1 2389.4 1274.2 2374.6 1271.1 2359.9 1265.8 2350 1260.8 2344.9 1255.9 2341.9 1245.9 2339.9 1235.9 2342.5 1230.9 2345.9 1225.9 2351.6 1221.6 2359.9 1217.2 2374.6 1214.4 2389.4 1212.9 2404.1 1212.4 2423.8 1210.9 2433.6 1209 2438.6 1206 2443 1201 2447.8 1176 2463.4 1150.7 2482.8 1136.1 2492 1096.2 2510.5 1051.3 2535.7 1036.3 2541.8 1026.4 2544.6 1016.4 2546.4 1001.4 2547.5 936.6 2545.3 911.6 2546.5 896.6 2549.6 866.7 2559.1 851.7 2562.9 786.9 2573.6 737 2590.5 692.1 2600.9 677.1 2603.3 617.3 2608.7 597.3 2609.7 577.4 2609.4 537.4 2605.8 492.5 2597.5 477.6 2592.8 457.6 2584.8 447.6 2582.3 412.7 2577.4 397.8 2576.3 387.8 2576.8 372.8 2579.3 337.9 2589.6 303 2588.6 288 2590.2 273 2594.4 230.4 2610.7 193.2 2620 178.2 2621.4 168.3 2621 148.3 2616.5 138.3 2612.6 124.9 2605.8 108.4 2593.6 73.5 2553.9 58.5 2532.9 58.5 2239.6 88.4 2237.5 103.4 2234.4 110.3 2232 118.7 2227 123.1 2222.1 124.2 2217.2 120.6 2202.4 117.5 2182.8 115.6 2177.8 108.9 2168 98.4 2158.8 88.4 2153 78.5 2149 58.5 2143.7 58.5 2089.3 63.5 2089.3ZM443.3 2104.1 372.8 2117.2 298 2127.2 283 2131 268 2138 260.1 2143.4 238.1 2162.1 223.1 2173.4 208.2 2181.9 178.2 2195.7 158.5 2207.4 146.3 2217.2 143.3 2222.1 143 2227 144.9 2232 148.4 2236.9 158.5 2246.7 165.5 2251.6 176.3 2256.6 228.1 2271.2 263 2275.7 322.9 2276.5 382.8 2274.5 422.7 2274.7 447.6 2276.1 567.4 2287.1 612.3 2287.8 637.2 2286.9 667.2 2284.1 687.1 2280.5 742 2265.2 783.9 2251.6 796.9 2245.3 808.3 2236.9 816.8 2227 821.3 2217.2 821.9 2207.4 818 2197.5 814 2192.6 807.9 2187.7 796.9 2182.8 786.9 2181.4 776.9 2181.9 737 2189.8 727 2189.9 712.1 2187.8 702.1 2184.8 692.1 2180.2 667 2163.1 647.2 2152.9 632.2 2147.5 572.4 2129 517.5 2109.7 502.5 2105.7 482.6 2102.8 462.6 2102.4 443.3 2104.1ZM1126.1 2629.8 1141.1 2626.7 1166.1 2626.1 1240.9 2629.3 1255.9 2631.2 1271.2 2635.3 1284.4 2640.2 1295.5 2645.2 1300.8 2648.6 1306.1 2655 1307.5 2659.9 1306.7 2664.8 1303.5 2669.8 1298 2674.7 1275.8 2689.6 1256.1 2699.3 1240.9 2703.1 1220.9 2704.4 1186 2703.1 1106.2 2703.2 1076.2 2701.2 1069.3 2699.3 1061.3 2694.4 1059.3 2689.4 1060.8 2684.5 1063.9 2679.6 1075.9 2664.8 1091.3 2650.1 1111.2 2636.4 1126.1 2629.8ZM836.8 2659.5 856.7 2656.8 876.7 2656.1 891.7 2657.2 911.6 2660.7 974.7 2679.6 998.3 2689.4 1007.7 2694.4 1012.9 2699.3 1009.8 2704.2 992.6 2714 976.5 2720.4 956.5 2725.1 896.6 2733 866.7 2735.4 836.8 2734.8 811.8 2730.8 791.9 2724.5 781.6 2718.9 776.6 2714 774.2 2709.1 774 2704.2 775.2 2699.3 781.1 2689.4 785.7 2684.5 798.6 2674.7 816.8 2665.3 836.8 2659.5ZM707.1 2708.6 717 2707.8 722 2709.3 728.7 2714 731.3 2718.9 730.8 2723.9 726.7 2728.8 722 2731.2 717 2732.4 712.1 2732.2 703.4 2728.8 699 2723.9 697.7 2718.9 699.4 2714 707.1 2708.6Z"/>
<path fill="#00c8ff" fill-rule="evenodd" d="M63.5 2089.3 396.4 2089.3 347.9 2099.1 278 2103.7 258.1 2106.8 223.1 2114.8 203.2 2116.6 168.3 2115.3 123.4 2116.3 58.5 2110 58.5 2089.3 63.5 2089.3ZM567.4 2089.3 1415.5 2089.3 1415.5 2110.1 1380.6 2107 1335.7 2104.7 1255.9 2103.2 1196 2105.3 1131.1 2102.1 1101.2 2103.5 1056.3 2110 1011.4 2119.7 966.5 2120 951.5 2121.4 941.5 2123.6 931.6 2127 921.6 2132.3 881.7 2163.5 871.7 2168 861.7 2169.4 846.8 2166.6 836.8 2162.4 811.8 2149.5 796.9 2145.1 786.9 2144.3 776.9 2145 747 2152.7 737 2153.6 732 2152.9 720.9 2148.3 697.1 2129.4 682.1 2120.7 667.2 2115.9 627.2 2109.3 612.3 2105.8 592.4 2099.1 567.4 2089.3ZM876.7 2226.8 886.7 2223.8 901.6 2224 911.6 2226 951.5 2237.1 981.5 2240.6 996.4 2240.6 1036.3 2238.1 1081.2 2233.2 1096.2 2233.7 1106.2 2235.4 1126.1 2242.1 1136.1 2247.1 1150.5 2256.6 1162.6 2266.4 1172.7 2276.2 1183.6 2291 1187.6 2300.8 1190.1 2315.6 1190.4 2335.3 1188.8 2359.9 1185.6 2374.6 1179.2 2389.4 1171 2404.3 1163.4 2414 1143.8 2433.6 1125.8 2458.2 1116.4 2468.1 1103.5 2477.9 1065.5 2502.5 1046.3 2513.2 1031.3 2519.5 1016.4 2523.5 1001.4 2524.9 931.6 2522.9 916.6 2523.3 901.6 2525.1 886.7 2529 851.7 2544 786.9 2555.8 766.9 2560.3 709.8 2581.2 682.1 2589.7 627.2 2594.2 602.3 2594.5 582.3 2592.8 497.5 2582.2 447.6 2567 388.9 2556.6 372.8 2552.9 357.8 2547 349.3 2541.9 338.6 2532 321.5 2512.3 307.2 2502.5 293 2496.1 278 2491.2 238.1 2482.8 228.1 2481.9 223.1 2482.5 218.1 2484.3 213.1 2487.7 211 2492.7 211.5 2497.6 213.3 2502.5 225.6 2527.1 232.7 2546.8 234.2 2556.6 233.9 2561.5 231.2 2571.4 224.3 2581.2 213.2 2588.7 203.2 2592.9 193.2 2595.7 178.2 2597.5 168.3 2596.8 158.3 2594.5 148.3 2590.3 141.3 2586.1 133.3 2579.7 126.1 2571.4 120.1 2561.5 113.4 2546.2 108.4 2538.8 103.4 2536.6 88.4 2533.4 83.4 2531.2 78.5 2527.7 74.9 2522.2 74.5 2517.3 78.5 2509.6 88.4 2502.8 103.3 2497.6 108.4 2494.7 110.5 2492.7 111.8 2487.7 107.9 2482.8 79.1 2468.1 68.5 2464.1 58.5 2462.3 58.5 2260.9 73.5 2262.5 111.9 2271.3 128.3 2274.1 268 2291.1 288 2291.5 342.9 2287.1 387.8 2286 417.7 2287.6 457.6 2292.5 527.5 2296.3 567.4 2300.4 627.2 2300.8 667.2 2299.3 682.1 2298.1 695.6 2295.9 781.9 2278.9 806.8 2271.9 819.7 2266.4 831.8 2259.5 866.7 2232.5 876.7 2226.8ZM1410.5 2261.2 1415.5 2260.9 1415.5 2462.3 1405.5 2462.5 1395.5 2464.4 1384.4 2468.1 1355.6 2480 1345.7 2480.5 1340.7 2479.2 1330.7 2473.5 1324.7 2468.1 1316.3 2458.2 1307.9 2443.5 1303.5 2428.7 1302.2 2414 1302.5 2374.6 1300.4 2330.3 1301.8 2305.7 1303.7 2295.9 1305.9 2291 1310.2 2286.1 1320.7 2280.6 1365.6 2269.5 1410.5 2261.2ZM841.8 2683.1 851.7 2680.8 861.7 2680.5 881.7 2684 894.8 2689.4 901.2 2694.4 902.9 2699.3 898.8 2704.2 888.1 2709.1 872.7 2714 856.7 2716.6 841.8 2715.1 836.8 2713.3 829.7 2709.1 825.7 2704.2 824.7 2699.3 826.2 2694.4 830.4 2689.4 841.8 2683.1Z"/>
<path fill="#23ffd4" fill-rule="evenodd" d="M901.6 2259.9 911.6 2258.9 941.5 2264.2 986.4 2269 1026.4 2266.6 1066.3 2267.3 1076.2 2268.4 1087.2 2271.3 1101.2 2278 1112.4 2286.1 1121.2 2294.8 1131.7 2310.7 1136.9 2325.4 1138.5 2335.3 1138.7 2345.1 1136.1 2359.2 1131.2 2369.7 1127.7 2374.6 1111.1 2394.3 1100.3 2409 1075.6 2453.3 1063.3 2468.1 1046.2 2482.8 1029.3 2492.7 1011.4 2498 991.4 2499.3 941.5 2497.2 906 2497.6 886.7 2495.5 861.7 2489.6 856.7 2490.3 841.7 2512.3 835.9 2517.3 826.9 2522.2 796.9 2533 761.9 2537.6 747 2541.5 732 2547.9 698.9 2566.5 687.2 2571.4 677.1 2574.3 637.2 2579.2 617.3 2580.1 607.3 2579.5 592.3 2576.9 562.4 2568.3 552.4 2566.4 537.4 2566 512.5 2568.6 497.5 2567.1 462.6 2555.4 402.7 2540.8 392.8 2537.3 377.1 2527.1 347.4 2497.6 337.9 2489.9 322.1 2482.8 289.9 2473 243.1 2462.5 218.1 2459.1 193.2 2458.9 158.3 2464.8 143.3 2464.5 103.4 2456.5 73.5 2449.1 58.5 2447.1 58.5 2289.2 73.5 2290.9 98.4 2296.6 113.4 2298.8 128.3 2298.8 168.3 2296.6 188.2 2296.8 218.1 2298.8 278 2305.2 293 2304.4 342.9 2297.4 382.8 2296.4 412.7 2298.5 457.6 2305.6 527.5 2307.2 567.4 2311.2 682.1 2311.4 737 2304.4 806.8 2298.6 826.8 2295.3 841.8 2290.9 856.7 2284.6 887.4 2266.4 901.6 2259.9ZM567.5 2463.2 557.4 2467.4 542.4 2471.4 540.2 2473 538.6 2477.9 539.6 2482.8 542.4 2489.3 549.7 2497.6 557.4 2502.9 572.4 2508.3 587.3 2508.7 612.3 2503.1 617.3 2502.7 627.2 2504.7 642.2 2511.1 652.2 2514.1 662.2 2515.1 672.1 2514.4 687.1 2511.1 702.1 2505.3 706.7 2502.5 711.8 2497.6 714.8 2492.7 716.4 2487.7 716.3 2477.9 714.3 2473 712.1 2470.2 707.1 2467.2 697.1 2466.2 657.2 2465.7 642.6 2468.1 627.2 2472.5 622.3 2472.6 617.3 2470.8 603 2463.2 592.3 2459.8 582.3 2459.1 567.5 2463.2ZM1400.5 2290.5 1415.5 2289.2 1415.5 2447.1 1375.6 2447.4 1360.6 2445.7 1350.6 2441.7 1340.7 2433.6 1334.3 2423.8 1330.8 2414 1328.3 2399.2 1326.6 2364.8 1327.1 2350 1329.1 2340.2 1335.7 2326.9 1345.7 2317.4 1380.6 2297.1 1390.6 2293.2 1400.5 2290.5ZM163.3 2516.2 173.2 2516.7 183.2 2522.1 188.2 2527.4 193.3 2536.9 194.8 2546.8 192.3 2556.6 188.2 2562 180.3 2566.5 173.2 2567.7 168.3 2567.3 158.3 2563.4 151.1 2556.6 146.5 2546.8 145.8 2536.9 148.8 2527.1 153.3 2521.3 158.3 2517.9 163.3 2516.2Z"/>
<path fill="#5dff9a" fill-rule="evenodd" d="M322.9 2310.4 347.9 2307 382.8 2306.5 407.7 2308.5 447.6 2315.5 457.6 2316.5 527.5 2317.2 567.4 2320.1 602.3 2320 677.1 2322.6 732 2321.5 752 2323 771.9 2326.2 788.8 2330.3 812.6 2340.2 831.6 2350 841.8 2358 846.7 2364.8 848.2 2369.7 847.9 2379.5 845.6 2389.4 840.3 2404.1 825.1 2433.6 801.9 2469.9 794.2 2477.9 786.9 2482 776.9 2482.9 766.9 2479.8 757 2473.1 733.3 2453.3 726.2 2448.4 717 2444.6 707.1 2445.2 687.1 2450 672.1 2451.4 642.2 2449.9 592.3 2443 567.4 2443.2 542.4 2445.6 532.5 2448 527.5 2450.3 522.5 2453.6 517.8 2458.2 514.5 2463.2 495.1 2517.3 490.6 2527.1 487.6 2530.9 482.6 2533.4 477.6 2534.2 457.6 2534 447.6 2532 422.7 2524.7 403.9 2517.3 392.8 2510.4 347.9 2477.9 338 2473 288 2458.2 248.1 2448.7 223.1 2444.4 198.2 2442.7 153.3 2445.3 128.3 2444.7 108.4 2441.9 78.5 2434.7 58.5 2432 58.5 2322.8 88.4 2324.6 108.4 2324.2 123.4 2322 158.3 2314.5 183.2 2311.7 218.1 2311.7 268 2316.8 283 2317.3 298 2315.5 322.9 2310.4ZM1395.5 2324.9 1415.5 2322.8 1415.5 2432 1385.6 2428.2 1370.6 2423 1364.7 2418.9 1360.4 2414 1357.7 2409 1354.7 2399.2 1353.8 2389.4 1354.1 2369.7 1350.8 2354.9 1351.3 2350 1353.5 2345.1 1357.7 2340.2 1365.6 2334.9 1380.6 2328.9 1395.5 2324.9ZM991.4 2386.9 996.4 2385.3 1001.4 2385.1 1011.4 2387.6 1021.7 2394.3 1025.5 2399.2 1027.5 2404.1 1027.7 2414 1021.4 2428.2 1016.4 2435.8 1011.4 2440.3 1006.4 2442.5 1001.4 2442.7 996.4 2441 991.4 2436.8 986.4 2429 981.5 2415.3 980.3 2409 981.1 2399.2 983.3 2394.3 986.4 2390.3 991.4 2386.9ZM607.3 2534.8 617.3 2533 627.2 2534.6 635 2536.9 645.8 2541.9 651 2546.8 647.9 2551.7 637.2 2557.5 622.3 2561.5 612.3 2560.6 603.3 2556.6 598.7 2551.7 597.2 2546.8 598.4 2541.9 603 2536.9 607.3 2534.8Z"/>
<path fill="#9aff5d" fill-rule="evenodd" d="M327.9 2320.4 352.8 2317 387.8 2317 402.7 2318.2 442.7 2324.8 457.6 2326.3 497.5 2327.3 532.5 2326.7 567.4 2328.4 617.3 2329.2 697.1 2334.7 727 2338.7 742 2342.8 752 2347.1 764.1 2354.9 771.9 2362.9 779.9 2374.6 786.8 2389.4 789.1 2399.2 788.3 2414 784.9 2423.8 781.9 2429.2 776.9 2435.1 771.9 2438.8 766.9 2441 757 2442.6 747 2441.6 722 2433.7 712.1 2432.4 702.1 2433.8 682.1 2438.9 672.1 2439.7 657.2 2438.4 627.2 2432.4 612.3 2430.8 552.4 2430.1 537.4 2431 527.5 2432.6 517.5 2436 506.6 2443.5 498 2453.3 482.6 2475 472.6 2485.1 462.6 2492.3 452.6 2497.5 442.7 2500.2 432.7 2500.6 422.7 2499.1 407.7 2494.2 377.8 2481.2 352.8 2467.8 337.9 2461 303 2449.5 253.1 2436 228.1 2431 203.2 2428.1 118.4 2427.4 108.4 2425.1 83.4 2415.6 73.5 2413 58.5 2411.2 58.5 2373.4 63.5 2373.3 73.5 2370.1 102.7 2354.9 152 2335.3 173.2 2329.2 198.2 2325.6 223.1 2324.9 268 2328.7 283 2328.8 298 2326.9 327.9 2320.4ZM1395.5 2369.5 1400.5 2369.7 1415.5 2373.4 1415.5 2411.2 1405.5 2410.1 1395.5 2407.6 1389.1 2404.1 1384.3 2399.2 1382 2394.3 1381.1 2389.4 1383 2379.5 1385.8 2374.6 1390.6 2370.8 1395.5 2369.5Z"/>
<path fill="#d4ff23" fill-rule="evenodd" d="M337.9 2330 362.8 2327.5 387.8 2327.7 407.7 2329.6 442.7 2334.9 492.5 2338.3 537.4 2336.1 612.3 2337.8 642.2 2340.1 687.1 2346.1 703 2350 716.1 2354.9 725.7 2359.9 739.2 2369.7 748.5 2379.5 754.5 2389.4 757.6 2399.2 757.4 2409 755.6 2414 751.9 2418.9 747 2422.1 742 2423.9 737 2424.1 722 2419.2 712.1 2417.8 702.1 2419.5 687.1 2425.6 677.1 2427.9 662.2 2426.4 622.3 2419 537.4 2416.9 517.5 2418.3 507.5 2421.4 496.4 2428.7 487.6 2437.7 471 2458.2 457.6 2469.5 447.6 2474.8 437.7 2478.3 427.7 2479.5 417.7 2478.6 382.8 2469.7 327.9 2445.6 303 2436.6 268 2425.6 233.1 2416.9 156.2 2404.1 141.2 2399.2 134.7 2394.3 132.7 2389.4 133.3 2384.4 135.4 2379.5 143.4 2369.7 155.3 2359.9 163.1 2354.9 173 2350 186.2 2345.1 203.2 2341 223.1 2338.9 268 2341.5 283 2341.2 298 2339.1 337.9 2330Z"/>
<path fill="#ffdb00" fill-rule="evenodd" d="M357.8 2340 377.8 2339.1 397.8 2339.8 437.7 2345.9 462.6 2347.4 497.5 2352.8 507.5 2351.9 527.5 2347.4 537.4 2346.4 592.3 2346.6 627.2 2348.5 677.1 2358.7 687.1 2362.3 691.5 2364.8 697 2369.7 700.5 2374.6 702.3 2379.5 702.2 2384.4 700.1 2389.4 687.1 2402.2 677.1 2408.3 672.1 2409.5 577.4 2406.5 522.5 2400.7 512.5 2400.6 502.5 2402.6 492.5 2407.3 482.6 2415.2 472.6 2426.5 457.2 2448.4 447.6 2457.5 442.7 2460.2 432.7 2462.9 422.7 2463.4 412.7 2462.6 387.8 2458.7 377.8 2455.6 312.9 2425.5 278 2411.2 263 2405.5 223.1 2394.9 213.2 2391.1 202.4 2384.4 199 2379.5 198.3 2374.6 200.2 2369.7 204.8 2364.8 212.9 2359.9 218.1 2358 233.1 2355.9 263 2358.1 283 2356.9 303 2352.6 332.9 2343.9 357.8 2340Z"/>
<path fill="#ff9400" fill-rule="evenodd" d="M362.8 2354.8 387.8 2352.4 407.7 2353.8 431.4 2359.9 444.4 2364.8 452.6 2369.3 457.6 2367.6 462.6 2367.5 464.8 2369.7 467.8 2374.6 468.4 2379.5 464.7 2394.3 457.9 2409 447 2428.7 442.7 2435.3 437.7 2440.5 432.7 2443.6 427.7 2445.1 417.7 2446.3 402.7 2445.4 382.8 2442.2 342.9 2423.2 316.7 2404.1 306.6 2394.3 303.9 2389.4 303.4 2384.4 305.5 2379.5 310 2374.6 316.6 2369.7 324.8 2364.8 335.9 2359.9 362.8 2354.8ZM552.4 2359.8 577.4 2358.1 622.3 2360.2 637.2 2364.8 644.6 2369.7 648.4 2374.6 649.4 2379.5 647.9 2384.4 643.3 2389.4 632.2 2392.9 587.3 2393.1 562.4 2390.1 544.2 2384.4 534.8 2379.5 529.9 2374.6 528.3 2369.7 530.3 2364.8 537.4 2362.1 552.4 2359.8Z"/>
<path fill="#ff5200" fill-rule="evenodd" d="M392.8 2369 406.1 2369.7 417.7 2373.9 425.6 2379.5 429.9 2384.4 432.6 2389.4 434.4 2399.2 432.4 2409 429.8 2414 425.8 2418.9 418.1 2423.8 407.7 2425.6 397.8 2424.5 387.8 2422.1 379.8 2418.9 372.4 2414 367.9 2409 365.3 2404.1 364.3 2399.2 364.6 2394.3 367.8 2384.4 371 2379.5 377.8 2373.9 387.8 2369.9 392.8 2369Z"/>
<use href="#coast" transform="translate(0 1970)"/>
</g>
<rect x="58.5" y="2089.3" width="1357.0" height="669.0" fill="none" stroke="#000" stroke-width="3.33"/>
<rect x="58.50" y="2801.8" width="97.53" height="67.10000000000002" fill="#0000a8"/>
<rect x="155.43" y="2801.8" width="97.53" height="67.10000000000002" fill="#0000fa"/>
<rect x="252.36" y="2801.8" width="97.53" height="67.10000000000002" fill="#0034ff"/>
<rect x="349.29" y="2801.8" width="97.53" height="67.10000000000002" fill="#0080ff"/>
<rect x="446.21" y="2801.8" width="97.53" height="67.10000000000002" fill="#00c8ff"/>
<rect x="543.14" y="2801.8" width="97.53" height="67.10000000000002" fill="#23ffd4"/>
<rect x="640.07" y="2801.8" width="97.53" height="67.10000000000002" fill="#5dff9a"/>
<rect x="737.00" y="2801.8" width="97.53" height="67.10000000000002" fill="#9aff5d"/>
<rect x="833.93" y="2801.8" width="97.53" height="67.10000000000002" fill="#d4ff23"/>
<rect x="930.86" y="2801.8" width="97.53" height="67.10000000000002" fill="#ffdb00"/>
<rect x="1027.79" y="2801.8" width="97.53" height="67.10000000000002" fill="#ff9400"/>
<rect x="1124.71" y="2801.8" width="97.53" height="67.10000000000002" fill="#ff5200"/>
<rect x="1221.64" y="2801.8" width="97.53" height="67.10000000000002" fill="#fa0f00"/>
<rect x="1318.57" y="2801.8" width="97.53" height="67.10000000000002" fill="#a80000"/>
<rect x="58.5" y="2801.8" width="1357.0" height="67.10000000000002" fill="none" stroke="#000" stroke-width="3.33"/>
<line x1="58.50" y1="2868.9" x2="58.50" y2="2885.10" stroke="#000" stroke-width="3.33"/>
<text transform="translate(58.50 2930.5) scale(1.06 1)" font-size="44" text-anchor="middle">0</text>
<line x1="252.36" y1="2868.9" x2="252.36" y2="2885.10" stroke="#000" stroke-width="3.33"/>
<text transform="translate(252.36 2930.5) scale(1.06 1)" font-size="44" text-anchor="middle">5</text>
<line x1="446.21" y1="2868.9" x2="446.21" y2="2885.10" stroke="#000" stroke-width="3.33"/>
<text transform="translate(446.21 2930.5) scale(1.06 1)" font-size="44" text-anchor="middle">10</text>
<line x1="640.07" y1="2868.9" x2="640.07" y2="2885.10" stroke="#000" stroke-width="3.33"/>
<text transform="translate(640.07 2930.5) scale(1.06 1)" font-size="44" text-anchor="middle">15</text>
<line x1="833.93" y1="2868.9" x2="833.93" y2="2885.10" stroke="#000" stroke-width="3.33"/>
<text transform="translate(833.93 2930.5) scale(1.06 1)" font-size="44" text-anchor="middle">20</text>
<line x1="1027.79" y1="2868.9" x2="1027.79" y2="2885.10" stroke="#000" stroke-width="3.33"/>
<text transform="translate(1027.79 2930.5) scale(1.06 1)" font-size="44" text-anchor="middle">25</text>
<line x1="1221.64" y1="2868.9" x2="1221.64" y2="2885.10" stroke="#000" stroke-width="3.33"/>
<text transform="translate(1221.64 2930.5) scale(1.06 1)" font-size="44" text-anchor="middle">30</text>
<line x1="1415.50" y1="2868.9" x2="1415.50" y2="2885.10" stroke="#000" stroke-width="3.33"/>
<text transform="translate(1415.50 2930.5) scale(1.06 1)" font-size="44" text-anchor="middle">35</text>
</svg></body></html>
